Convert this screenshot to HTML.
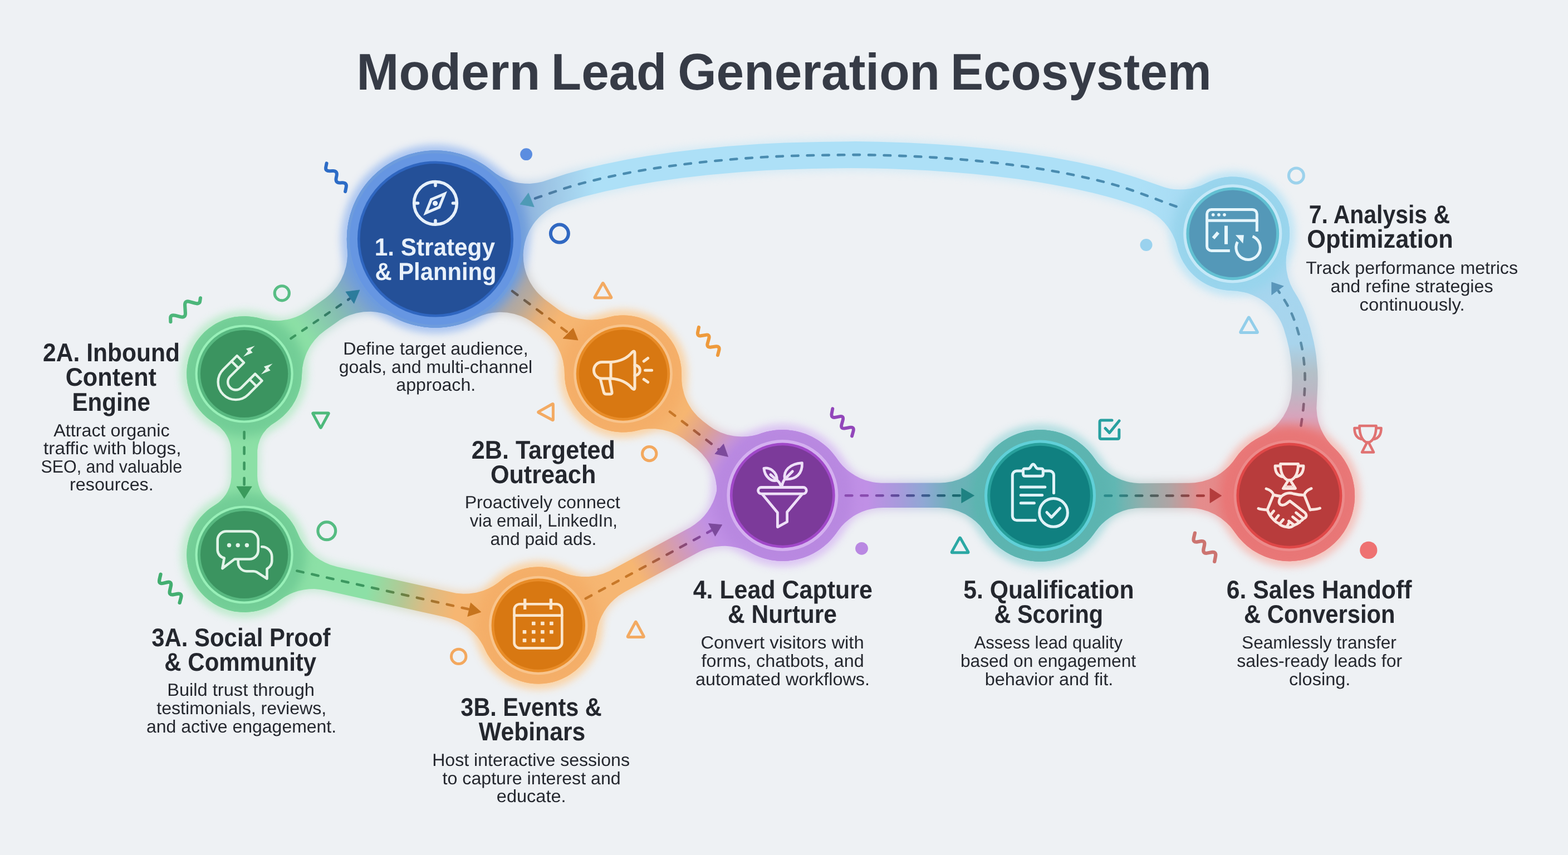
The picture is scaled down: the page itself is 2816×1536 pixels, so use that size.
<!DOCTYPE html>
<html lang="en"><head><meta charset="utf-8"><title>Modern Lead Generation Ecosystem</title>
<style>
html,body{margin:0;padding:0;background:#eef1f4;}
body{width:2816px;height:1536px;overflow:hidden;}
svg{display:block;}
text{font-family:"Liberation Sans",Arial,sans-serif;white-space:pre;}
</style></head><body>
<svg xmlns="http://www.w3.org/2000/svg" width="2816" height="1536" viewBox="0 0 2816 1536">
<defs>
<linearGradient id="g_c2A1" gradientUnits="userSpaceOnUse" x1="439" y1="666.8" x2="782" y2="425.1"><stop offset="0" stop-color="#8ce0a6"/><stop offset="0.3" stop-color="#8ce0a6"/><stop offset="0.47" stop-color="#86beb2"/><stop offset="0.58" stop-color="#7ea6cc"/><stop offset="0.7" stop-color="#6b9ae3"/><stop offset="1" stop-color="#6b9ae3"/></linearGradient>
<linearGradient id="g_c2A1d" gradientUnits="userSpaceOnUse" x1="439" y1="666.8" x2="782" y2="425.1"><stop offset="0" stop-color="#3c9860"/><stop offset="0.3" stop-color="#3c9860"/><stop offset="0.47" stop-color="#337567"/><stop offset="0.58" stop-color="#2a5986"/><stop offset="0.7" stop-color="#3f6fb2"/><stop offset="1" stop-color="#3f6fb2"/></linearGradient>
<linearGradient id="g_c12B" gradientUnits="userSpaceOnUse" x1="782" y1="420.1" x2="1119" y2="671.4"><stop offset="0" stop-color="#6b9ae3"/><stop offset="0.24" stop-color="#6b9ae3"/><stop offset="0.31" stop-color="#8a9cc4"/><stop offset="0.4" stop-color="#a4a6ae"/><stop offset="0.48" stop-color="#b8aa9c"/><stop offset="0.56" stop-color="#e4b07c"/><stop offset="0.64" stop-color="#f6b672"/><stop offset="1" stop-color="#f6b672"/></linearGradient>
<linearGradient id="g_c12Bd" gradientUnits="userSpaceOnUse" x1="782" y1="420.1" x2="1119" y2="671.4"><stop offset="0" stop-color="#3f6fb2"/><stop offset="0.24" stop-color="#3f6fb2"/><stop offset="0.31" stop-color="#384d7c"/><stop offset="0.4" stop-color="#565962"/><stop offset="0.48" stop-color="#6e5e4d"/><stop offset="0.56" stop-color="#a26527"/><stop offset="0.64" stop-color="#c87828"/><stop offset="1" stop-color="#c87828"/></linearGradient>
<linearGradient id="g_c2B4" gradientUnits="userSpaceOnUse" x1="1119" y1="674.8" x2="1405" y2="895.7"><stop offset="0" stop-color="#f6b672"/><stop offset="0.36" stop-color="#f6b672"/><stop offset="0.5" stop-color="#dca094"/><stop offset="0.62" stop-color="#c896d4"/><stop offset="0.7" stop-color="#c090e6"/><stop offset="1" stop-color="#c090e6"/></linearGradient>
<linearGradient id="g_c2B4d" gradientUnits="userSpaceOnUse" x1="1119" y1="674.8" x2="1405" y2="895.7"><stop offset="0" stop-color="#c87828"/><stop offset="0.36" stop-color="#c87828"/><stop offset="0.5" stop-color="#995244"/><stop offset="0.62" stop-color="#81468f"/><stop offset="0.7" stop-color="#8a4cb0"/><stop offset="1" stop-color="#8a4cb0"/></linearGradient>
<linearGradient id="g_c2A3A" gradientUnits="userSpaceOnUse" x1="438.6" y1="671.5" x2="438.6" y2="996.5"><stop offset="0" stop-color="#8ce0a6"/><stop offset="1" stop-color="#8ce0a6"/></linearGradient>
<linearGradient id="g_c2A3Ad" gradientUnits="userSpaceOnUse" x1="438.6" y1="671.5" x2="438.6" y2="996.5"><stop offset="0" stop-color="#3c9860"/><stop offset="1" stop-color="#3c9860"/></linearGradient>
<linearGradient id="g_c3A3B" gradientUnits="userSpaceOnUse" x1="438.6" y1="1004.5" x2="966.8" y2="1122.4"><stop offset="0" stop-color="#8ce0a6"/><stop offset="0.42" stop-color="#8ce0a6"/><stop offset="0.54" stop-color="#b4c894"/><stop offset="0.62" stop-color="#dcbc84"/><stop offset="0.72" stop-color="#f6b672"/><stop offset="1" stop-color="#f6b672"/></linearGradient>
<linearGradient id="g_c3A3Bd" gradientUnits="userSpaceOnUse" x1="438.6" y1="1004.5" x2="966.8" y2="1122.4"><stop offset="0" stop-color="#3c9860"/><stop offset="0.42" stop-color="#3c9860"/><stop offset="0.54" stop-color="#698144"/><stop offset="0.62" stop-color="#997331"/><stop offset="0.72" stop-color="#c87828"/><stop offset="1" stop-color="#c87828"/></linearGradient>
<linearGradient id="g_c3B4" gradientUnits="userSpaceOnUse" x1="966.8" y1="1121.2" x2="1405.3" y2="884.1"><stop offset="0" stop-color="#f6b672"/><stop offset="0.4" stop-color="#f6b672"/><stop offset="0.52" stop-color="#dca09c"/><stop offset="0.64" stop-color="#c896d4"/><stop offset="0.72" stop-color="#c090e6"/><stop offset="1" stop-color="#c090e6"/></linearGradient>
<linearGradient id="g_c3B4d" gradientUnits="userSpaceOnUse" x1="966.8" y1="1121.2" x2="1405.3" y2="884.1"><stop offset="0" stop-color="#c87828"/><stop offset="0.4" stop-color="#c87828"/><stop offset="0.52" stop-color="#99524d"/><stop offset="0.64" stop-color="#81468f"/><stop offset="0.72" stop-color="#8a4cb0"/><stop offset="1" stop-color="#8a4cb0"/></linearGradient>
<linearGradient id="g_c45" gradientUnits="userSpaceOnUse" x1="1405.3" y1="890" x2="1868" y2="890"><stop offset="0" stop-color="#c090e6"/><stop offset="0.33" stop-color="#c090e6"/><stop offset="0.45" stop-color="#a89adc"/><stop offset="0.55" stop-color="#8fa8d4"/><stop offset="0.66" stop-color="#6cb2b8"/><stop offset="1" stop-color="#62b8b4"/></linearGradient>
<linearGradient id="g_c45d" gradientUnits="userSpaceOnUse" x1="1405.3" y1="890" x2="1868" y2="890"><stop offset="0" stop-color="#8a4cb0"/><stop offset="0.33" stop-color="#8a4cb0"/><stop offset="0.45" stop-color="#5b4b99"/><stop offset="0.55" stop-color="#3e5b8f"/><stop offset="0.66" stop-color="#1a676e"/><stop offset="1" stop-color="#2a8a8a"/></linearGradient>
<linearGradient id="g_c56" gradientUnits="userSpaceOnUse" x1="1868" y1="890.5" x2="2315.4" y2="890.5"><stop offset="0" stop-color="#62b8b4"/><stop offset="0.3" stop-color="#62b8b4"/><stop offset="0.42" stop-color="#94aeac"/><stop offset="0.52" stop-color="#b0a4a4"/><stop offset="0.64" stop-color="#e48c8c"/><stop offset="1" stop-color="#ec8484"/></linearGradient>
<linearGradient id="g_c56d" gradientUnits="userSpaceOnUse" x1="1868" y1="890.5" x2="2315.4" y2="890.5"><stop offset="0" stop-color="#2a8a8a"/><stop offset="0.3" stop-color="#2a8a8a"/><stop offset="0.42" stop-color="#446260"/><stop offset="0.52" stop-color="#655656"/><stop offset="0.64" stop-color="#a23a3a"/><stop offset="1" stop-color="#c04848"/></linearGradient>
<linearGradient id="g_c67" gradientUnits="userSpaceOnUse" x1="2330" y1="890" x2="2330" y2="420"><stop offset="0" stop-color="#ec8484"/><stop offset="0.2" stop-color="#ee8888"/><stop offset="0.3" stop-color="#d8a4bc"/><stop offset="0.4" stop-color="#bcb8c4"/><stop offset="0.47" stop-color="#b4c0c8"/><stop offset="0.58" stop-color="#a8d4ec"/><stop offset="1" stop-color="#a4d8f2"/></linearGradient>
<linearGradient id="g_c67d" gradientUnits="userSpaceOnUse" x1="2330" y1="890" x2="2330" y2="420"><stop offset="0" stop-color="#c04848"/><stop offset="0.2" stop-color="#c04848"/><stop offset="0.3" stop-color="#945673"/><stop offset="0.4" stop-color="#736e7c"/><stop offset="0.47" stop-color="#697781"/><stop offset="0.58" stop-color="#5b8fab"/><stop offset="1" stop-color="#4a8cb0"/></linearGradient>
<linearGradient id="g_c71" gradientUnits="userSpaceOnUse" x1="2213.8" y1="350" x2="782" y2="350"><stop offset="0" stop-color="#a4d8f2"/><stop offset="0.06" stop-color="#a8dcf4"/><stop offset="0.12" stop-color="#ade0f7"/><stop offset="0.8" stop-color="#ade0f7"/><stop offset="0.86" stop-color="#9cc4e4"/><stop offset="0.9" stop-color="#88acdc"/><stop offset="0.93" stop-color="#6b9ae3"/><stop offset="1" stop-color="#6b9ae3"/></linearGradient>
<linearGradient id="g_c71d" gradientUnits="userSpaceOnUse" x1="2213.8" y1="350" x2="782" y2="350"><stop offset="0" stop-color="#4a8cb0"/><stop offset="0.06" stop-color="#4a8cb0"/><stop offset="0.12" stop-color="#4a8cb0"/><stop offset="0.8" stop-color="#4a8cb0"/><stop offset="0.86" stop-color="#4d7ca2"/><stop offset="0.9" stop-color="#356099"/><stop offset="0.93" stop-color="#3f6fb2"/><stop offset="1" stop-color="#3f6fb2"/></linearGradient>
<filter id="glow" x="0" y="0" width="2816" height="1536" filterUnits="userSpaceOnUse" color-interpolation-filters="sRGB"><feGaussianBlur stdDeviation="8"/></filter>
<filter id="soft" x="0" y="0" width="2816" height="1536" filterUnits="userSpaceOnUse" color-interpolation-filters="sRGB"><feGaussianBlur stdDeviation="0.9"/></filter>
<filter id="halo" x="0" y="0" width="2816" height="1536" filterUnits="userSpaceOnUse" color-interpolation-filters="sRGB"><feGaussianBlur stdDeviation="9"/></filter>
</defs>
<rect width="2816" height="1536" fill="#eef1f4"/>
<!-- glow -->
<g filter="url(#glow)" opacity="0.42">
<path d="M545.5,682.2 546.9,661.2 549.5,649.1 554.8,634.6 562.5,621.0 568.1,613.6 576.6,604.5 586.4,596.6 612.6,578.2 629.2,570.0 641.1,566.4 653.3,564.3 674.9,564.5 693.0,568.6 723.2,581.7 746.1,588.7 773.8,592.5 797.8,591.9 813.6,589.6 825.7,586.7 851.9,576.9 876.1,562.8 897.5,544.8 908.3,532.9 917.8,520.0 926.0,506.3 932.8,491.8 938.2,476.7 942.1,461.1 944.4,445.3 945.2,429.3 944.4,413.3 942.0,397.5 938.1,381.9 932.7,366.9 925.8,352.4 917.6,338.7 908.0,325.8 897.3,314.0 875.8,296.0 852.5,282.3 829.2,273.3 801.8,267.5 774.2,266.5 746.4,270.2 719.7,278.7 694.8,291.5 675.5,305.8 658.5,322.8 644.2,342.1 632.7,363.5 624.7,386.1 620.0,409.4 618.8,429.4 620.1,459.0 617.6,477.7 613.9,489.8 608.7,501.3 602.0,512.0 594.0,521.8 582.3,532.3 548.6,556.2 535.1,563.7 520.5,568.9 505.4,571.7 490.0,572.1 477.7,570.6 451.9,564.9 430.9,564.4 420.0,565.7 407.2,568.8 396.7,572.6 385.9,577.9 368.3,590.3 354.1,605.2 349.2,611.9 339.5,630.2 335.2,642.6 331.5,663.5 331.7,682.2 335.9,702.9 344.0,722.3 355.7,739.8 370.6,754.6 388.1,766.3 407.6,774.3 428.3,778.4 449.3,778.4 470.0,774.2 489.4,766.1 506.9,754.4 521.5,739.8 533.2,722.3 541.3,702.9Z" fill="url(#g_c2A1)"/>
<path d="M945.1,425.0 943.9,409.3 941.2,393.6 936.9,378.1 931.1,363.2 923.9,348.9 915.3,335.4 905.4,322.8 894.4,311.2 882.2,300.7 869.1,291.5 855.2,283.6 840.6,277.2 825.3,272.2 809.7,268.7 793.8,266.7 777.8,266.4 761.8,267.6 746.1,270.3 730.6,274.6 715.7,280.4 701.4,287.6 687.9,296.2 675.3,306.1 663.7,317.1 653.2,329.3 644.0,342.4 636.1,356.3 629.7,370.9 624.7,386.2 621.2,401.8 619.2,417.7 618.9,433.6 620.6,453.6 624.9,473.8 632.7,495.5 642.1,513.5 653.3,529.8 667.1,545.4 684.7,560.5 701.4,571.4 719.7,580.3 741.6,587.6 761.9,591.5 781.9,592.7 801.8,591.5 821.8,587.8 840.6,581.8 867.3,570.2 885.5,565.7 898.0,564.8 910.5,565.5 922.8,567.8 934.7,571.7 951.2,580.2 973.9,596.9 985.4,607.8 994.9,620.3 1002.3,634.3 1007.3,649.2 1009.4,661.6 1011.6,689.9 1014.6,702.9 1018.4,713.3 1025.1,726.9 1032.9,738.4 1041.8,748.4 1052.1,757.5 1066.0,766.7 1082.4,774.2 1097.9,778.4 1116.5,780.5 1134.8,779.3 1150.8,775.8 1167.3,769.2 1181.6,760.7 1198.1,746.5 1211.2,729.6 1220.8,710.5 1226.4,689.9 1228.0,668.6 1225.3,647.4 1218.6,627.2 1208.0,608.6 1196.0,594.3 1181.6,582.3 1165.5,572.9 1147.9,566.4 1129.9,563.0 1113.8,562.6 1100.1,564.2 1072.4,570.2 1053.5,570.5 1040.9,568.7 1028.8,565.2 1017.2,560.2 1006.3,553.6 979.7,533.8 970.4,525.3 960.6,513.3 952.8,499.8 947.3,485.2 944.2,470.0 943.6,457.5Z" fill="url(#g_c12B)"/>
<path d="M1137.4,778.9 1164.1,774.2 1176.7,774.2 1189.1,775.9 1198.2,778.2 1215.5,785.4 1226.1,792.0 1248.4,809.1 1257.5,817.7 1265.4,827.3 1270.5,835.1 1276.1,846.3 1279.2,855.0 1283.0,873.3 1283.7,898.7 1285.8,913.9 1290.5,930.9 1297.7,947.3 1309.3,965.1 1323.3,980.2 1340.0,992.9 1356.1,1001.5 1378.8,1009.0 1402.5,1011.9 1426.3,1010.1 1449.4,1003.7 1470.7,992.9 1489.5,978.1 1505.1,960.0 1516.8,939.3 1523.2,920.8 1526.6,901.8 1527.0,883.9 1524.2,863.1 1518.2,844.1 1509.9,827.5 1498.5,811.4 1485.0,797.8 1472.4,788.2 1457.3,779.7 1440.5,773.3 1423.3,769.4 1408.1,768.1 1390.5,769.0 1375.9,771.7 1350.2,778.9 1331.7,780.5 1319.3,779.6 1307.2,777.0 1295.5,773.0 1284.4,767.4 1265.3,753.7 1255.9,745.4 1245.9,733.6 1237.9,720.3 1232.2,706.0 1229.3,693.8 1227.2,658.4 1222.6,637.5 1217.6,625.1 1212.6,615.6 1205.1,604.6 1198.1,596.5 1187.4,586.6 1175.2,578.1 1162.3,571.5 1148.3,566.5 1126.9,562.8 1103.2,563.7 1090.2,566.4 1080.0,569.7 1060.9,579.3 1044.0,592.4 1030.0,608.6 1019.4,627.2 1012.7,647.4 1010.0,668.6 1011.6,689.9 1017.2,710.5 1026.8,729.6 1039.9,746.5 1056.1,760.5 1074.7,771.1 1094.9,777.8 1116.1,780.5Z" fill="url(#g_c2B4)"/>
<path d="M368.3,752.7 392.4,770.3 399.9,778.5 405.7,788.0 409.6,798.5 411.5,813.4 411.5,856.5 410.3,866.2 405.3,880.7 397.9,892.0 389.7,900.0 374.5,910.3 362.6,920.7 352.0,933.0 342.7,948.1 335.9,965.2 332.0,983.2 331.3,1001.9 333.9,1020.2 340.5,1040.2 350.9,1058.5 364.7,1074.4 381.3,1087.3 400.1,1096.8 420.4,1102.3 441.4,1103.9 462.3,1101.2 479.5,1095.8 493.9,1088.5 508.6,1077.9 520.3,1066.2 530.6,1051.8 538.7,1035.3 543.5,1019.5 545.9,1001.9 545.7,988.1 543.4,972.8 538.7,957.7 532.0,943.4 523.4,930.5 514.4,920.4 504.5,911.7 486.5,899.0 478.5,890.7 470.7,877.4 466.6,862.6 466.2,809.3 467.6,799.9 470.6,790.7 475.9,780.8 481.9,773.3 489.0,766.9 510.6,751.2 518.6,743.1 526.5,733.1 533.4,722.0 539.5,708.2 543.3,695.3 545.5,681.9 545.9,666.4 544.0,650.7 539.8,635.5 533.4,621.0 525.0,607.6 516.0,597.1 504.6,586.7 491.7,578.1 472.5,569.6 451.9,564.9 430.9,564.4 410.1,567.9 390.5,575.5 372.7,586.7 357.4,601.2 345.3,618.4 336.7,637.6 332.0,658.2 331.5,679.2 335.0,700.0 342.6,719.6 353.8,737.4Z" fill="url(#g_c2A3A)"/>
<path d="M542.6,965.7 533.2,945.7 521.5,928.2 506.6,913.4 489.1,901.7 470.0,893.8 449.3,889.6 428.3,889.6 407.6,893.7 388.1,901.7 370.6,913.4 355.7,928.2 344.0,945.7 335.9,965.1 331.7,985.8 331.7,1006.8 335.8,1027.5 339.5,1037.8 345.3,1049.6 352.5,1060.7 366.6,1076.2 383.2,1088.5 394.9,1094.6 407.2,1099.2 420.0,1102.3 433.1,1103.8 443.7,1103.8 455.2,1102.6 467.5,1099.9 478.9,1096.0 489.0,1091.3 514.3,1074.9 528.2,1068.3 546.1,1063.4 564.6,1062.1 583.1,1064.4 809.2,1115.4 828.9,1124.3 839.1,1131.4 848.2,1139.7 859.8,1154.1 871.9,1177.0 879.1,1188.2 887.7,1198.5 897.5,1207.6 908.3,1215.5 920.3,1222.1 934.4,1227.6 948.3,1230.9 967.0,1232.5 985.6,1230.9 1003.7,1226.1 1020.7,1218.3 1036.1,1207.7 1049.5,1194.5 1060.4,1179.4 1068.6,1162.5 1074.2,1141.9 1075.8,1120.6 1073.1,1099.4 1066.4,1079.2 1055.8,1060.6 1041.8,1044.4 1024.9,1031.3 1005.9,1021.8 990.8,1017.2 975.0,1014.8 958.9,1014.8 943.1,1017.1 928.3,1021.5 915.6,1027.3 904.2,1034.2 883.5,1049.4 866.5,1057.4 854.3,1060.8 841.8,1062.6 832.4,1062.8 819.8,1061.7 606.5,1014.3 594.1,1010.7 577.0,1002.4 569.2,997.0 559.5,988.6 547.5,973.9Z" fill="url(#g_c3A3B)"/>
<path d="M1093.2,1022.1 1081.6,1027.0 1069.5,1030.3 1057.1,1032.0 1044.6,1032.1 1026.1,1029.2 1001.2,1020.1 988.3,1016.6 974.7,1014.8 958.6,1014.8 942.8,1017.2 927.4,1021.9 912.9,1028.7 899.6,1037.7 884.1,1052.5 871.9,1069.9 863.2,1089.5 858.6,1110.4 858.1,1131.7 861.8,1152.8 869.5,1172.7 881.0,1190.7 891.7,1202.5 904.7,1213.1 920.1,1222.0 935.0,1227.8 951.0,1231.3 967.6,1232.5 985.3,1230.9 1000.9,1227.0 1018.0,1219.7 1031.6,1211.1 1044.0,1200.4 1055.8,1186.4 1063.8,1173.2 1069.3,1160.5 1073.2,1147.2 1077.2,1126.1 1083.9,1108.7 1093.7,1092.8 1106.4,1079.2 1113.7,1073.4 1124.4,1066.7 1257.2,994.9 1271.5,989.2 1283.5,986.3 1295.9,984.9 1311.2,985.5 1332.3,990.4 1356.1,1001.5 1370.1,1006.7 1387.3,1010.6 1402.6,1011.9 1417.5,1011.3 1432.3,1008.9 1447.2,1004.5 1462.9,997.4 1482.5,984.4 1497.7,969.5 1511.3,950.3 1520.8,929.0 1525.9,907.7 1527.1,884.2 1524.0,862.1 1516.8,840.8 1505.1,820.0 1489.5,801.9 1470.7,787.1 1449.4,776.3 1426.3,769.9 1402.5,768.1 1378.8,771.0 1356.1,778.5 1340.2,786.9 1326.3,797.2 1314.9,808.2 1304.0,822.2 1296.3,835.4 1290.5,849.2 1286.3,863.5 1282.0,886.1 1276.7,900.7 1267.4,916.9 1255.2,930.9 1245.5,938.9 1237.7,944.0Z" fill="url(#g_c3B4)"/>
<path d="M1501.3,965.1 1513.7,948.7 1527.4,935.8 1540.6,927.4 1549.1,923.3 1567.1,917.8 1585.9,916.0 1686.4,916.0 1699.1,916.8 1708.3,918.5 1720.3,922.2 1731.8,927.3 1742.5,934.0 1756.6,946.4 1773.2,968.0 1783.7,979.2 1797.6,990.7 1813.1,999.9 1831.7,1007.4 1850.2,1011.6 1870.2,1012.9 1889.1,1011.1 1912.2,1004.6 1933.6,993.8 1952.5,979.0 1968.2,960.8 1980.0,939.9 1987.5,917.1 1990.4,893.3 1988.6,869.4 1983.3,849.5 1975.6,832.1 1964.4,815.1 1950.3,799.9 1933.6,787.2 1916.0,777.9 1897.5,771.7 1877.2,768.4 1859.1,768.4 1841.3,771.0 1826.0,775.5 1810.4,782.5 1796.9,790.9 1783.7,801.8 1773.5,812.7 1756.9,833.9 1742.9,846.0 1732.3,852.4 1721.0,857.5 1709.2,861.1 1697.0,863.1 1582.9,863.8 1567.5,862.1 1555.4,858.9 1538.4,851.3 1523.1,840.6 1512.2,829.6 1493.4,805.8 1483.3,796.4 1472.8,788.5 1459.9,781.0 1446.1,775.2 1431.8,771.0 1417.5,768.7 1408.1,768.1 1390.5,769.0 1381.4,770.5 1364.6,775.1 1350.4,781.2 1335.7,789.9 1323.3,799.8 1311.2,812.6 1302.4,824.6 1296.5,835.0 1287.9,857.3 1283.7,880.8 1284.3,904.7 1289.5,928.0 1299.1,949.9 1312.9,969.5 1330.2,986.0 1350.3,998.8 1372.6,1007.4 1396.1,1011.6 1420.0,1011.0 1443.3,1005.8 1465.2,996.2 1484.8,982.4Z" fill="url(#g_c45)"/>
<path d="M1956.5,975.0 1981.2,944.6 1995.8,932.7 2009.5,925.1 2027.3,919.0 2039.8,917.0 2049.2,916.5 2135.0,916.5 2147.5,917.3 2168.5,922.5 2179.8,927.6 2190.4,934.0 2200.1,941.8 2206.6,948.5 2221.2,967.5 2231.6,978.7 2245.4,990.1 2260.9,999.3 2279.9,1006.9 2297.7,1010.9 2317.6,1012.2 2336.4,1010.4 2359.4,1004.0 2380.7,993.2 2399.5,978.5 2415.0,960.4 2426.7,939.6 2434.2,917.0 2437.1,893.3 2435.3,869.5 2430.0,849.6 2422.3,832.4 2411.2,815.5 2397.0,800.2 2381.2,788.1 2364.6,779.2 2344.8,772.4 2324.2,769.1 2306.6,769.1 2288.9,771.7 2274.3,776.0 2258.2,783.1 2244.7,791.5 2231.6,802.3 2221.5,813.1 2204.6,834.5 2190.0,846.9 2181.9,851.9 2170.3,857.3 2158.1,861.1 2145.5,863.3 2046.3,864.2 2030.6,862.4 2015.4,858.1 1998.4,849.8 1985.7,840.5 1974.8,829.2 1956.5,805.9 1947.0,797.0 1935.8,788.6 1922.8,781.1 1909.0,775.2 1894.6,771.0 1879.9,768.7 1862.8,768.2 1846.9,769.9 1829.7,774.2 1815.0,780.2 1799.9,788.8 1785.9,799.7 1775.2,810.7 1764.7,824.9 1753.9,846.3 1747.4,869.4 1745.6,893.3 1748.5,917.1 1756.0,939.9 1767.8,960.8 1783.5,979.0 1802.4,993.8 1823.8,1004.6 1846.9,1011.1 1870.8,1012.9 1894.6,1010.0 1917.4,1002.5 1938.3,990.7Z" fill="url(#g_c56)"/>
<path d="M2320.0,416.7 2317.5,396.3 2310.9,376.5 2300.6,358.4 2287.0,342.7 2270.8,330.1 2252.2,320.7 2232.2,315.1 2211.4,313.5 2190.7,316.0 2172.4,321.9 2154.6,331.5 2138.5,344.8 2125.3,360.9 2115.5,379.3 2109.6,398.9 2107.5,419.6 2108.0,430.5 2110.1,443.3 2117.3,464.5 2128.5,483.3 2135.6,491.8 2144.2,500.1 2161.2,512.2 2180.3,520.7 2198.3,525.0 2221.0,526.6 2233.3,528.8 2248.0,533.6 2259.1,539.2 2274.1,550.1 2284.9,561.3 2295.2,576.7 2301.4,590.9 2311.1,627.1 2316.0,663.8 2316.6,682.4 2315.9,702.3 2314.1,714.6 2310.7,726.6 2307.2,735.2 2301.2,746.2 2293.9,756.2 2287.6,763.1 2273.1,774.9 2253.0,786.0 2240.4,794.7 2227.2,806.7 2215.8,820.5 2206.3,836.5 2198.9,855.3 2195.0,872.8 2193.7,893.7 2196.6,917.0 2203.3,937.8 2214.3,958.3 2229.5,976.7 2248.0,991.8 2268.6,1002.9 2291.5,1009.8 2315.2,1012.2 2338.9,1009.9 2361.8,1003.0 2382.8,991.8 2401.3,976.7 2416.5,958.3 2427.8,937.3 2434.7,914.4 2437.1,890.7 2436.2,875.8 2433.9,863.0 2429.9,849.3 2424.2,836.0 2411.5,815.8 2392.5,795.4 2383.2,783.1 2376.0,769.4 2371.1,754.8 2368.3,733.4 2370.4,692.9 2370.2,665.7 2367.8,639.0 2363.5,613.6 2357.1,588.1 2349.2,564.4 2339.0,541.1 2321.2,509.2 2317.0,497.2 2314.4,484.7 2313.4,472.0 2313.8,462.5 2319.0,435.2Z" fill="url(#g_c67)"/>
<path d="M893.0,309.0 872.5,293.7 858.8,285.5 844.3,278.7 829.2,273.3 813.6,269.4 797.8,267.1 781.8,266.3 765.8,267.1 750.0,269.5 734.4,273.4 719.4,278.8 704.9,285.7 691.2,293.9 678.3,303.5 666.5,314.2 655.7,326.1 646.2,339.0 638.0,352.7 631.2,367.2 625.8,382.3 621.9,397.9 619.6,413.7 618.8,429.7 619.6,445.7 622.0,461.5 625.9,477.1 631.3,492.1 638.2,506.6 646.4,520.3 656.0,533.2 666.7,545.0 687.9,562.8 704.9,573.4 726.9,583.1 746.1,588.7 766.8,592.0 790.1,592.5 810.0,590.3 833.3,584.4 851.9,577.0 872.8,565.1 891.7,550.3 905.5,536.2 913.0,526.8 925.9,506.6 935.6,484.6 941.2,465.4 946.4,436.5 949.2,427.5 954.4,415.9 961.0,405.1 971.1,393.0 983.1,382.8 993.8,376.1 1010.0,369.2 1050.1,356.9 1088.7,347.4 1136.5,337.5 1179.1,330.2 1224.5,323.8 1275.6,318.0 1332.0,313.0 1412.1,308.4 1527.1,306.1 1592.8,307.1 1667.2,310.3 1747.8,316.5 1828.2,325.8 1890.3,335.6 1961.6,350.4 2004.4,362.0 2048.7,376.4 2063.2,382.9 2074.0,389.8 2088.1,402.5 2099.4,417.7 2106.5,432.0 2112.8,453.0 2117.8,465.4 2125.5,479.0 2135.1,491.3 2148.6,503.7 2165.3,514.4 2182.8,521.5 2201.0,525.3 2222.5,525.7 2244.5,521.6 2263.7,513.6 2281.1,502.1 2296.1,487.1 2307.9,469.1 2316.2,448.3 2319.8,427.8 2319.6,409.6 2316.3,391.6 2310.0,374.5 2300.8,358.7 2289.1,344.7 2275.2,333.0 2259.4,323.8 2242.3,317.4 2231.7,315.0 2219.9,313.7 2198.4,314.6 2178.2,319.7 2155.4,329.8 2143.2,333.8 2127.5,336.3 2108.3,335.9 2092.7,332.7 2040.0,314.4 2002.5,303.1 1936.9,287.6 1890.8,278.8 1844.5,271.5 1780.5,263.6 1725.3,258.3 1631.9,252.5 1536.2,250.1 1409.8,252.4 1362.4,254.7 1258.3,263.5 1207.8,269.5 1125.8,282.5 1051.7,298.7 1015.5,308.6 972.9,322.5 963.9,324.5 942.3,325.8 923.9,323.0 909.3,318.0Z" fill="url(#g_c71)"/>
</g>
<g filter="url(#glow)" opacity="0.9">
<circle cx="782.0" cy="429.5" r="168.2" fill="#a8c4f2"/>
<circle cx="438.6" cy="671.5" r="112.4" fill="#bfecce"/>
<circle cx="438.6" cy="996.5" r="112.4" fill="#bfecce"/>
<circle cx="1119.0" cy="671.5" r="114.0" fill="#fcd4a4"/>
<circle cx="966.8" cy="1123.5" r="114.0" fill="#fcd4a4"/>
<circle cx="1405.3" cy="890.0" r="126.9" fill="#dcc4f4"/>
<circle cx="1868.0" cy="890.5" r="127.4" fill="#b4e0e4"/>
<circle cx="2315.4" cy="890.5" r="126.7" fill="#f6c4bc"/>
<circle cx="2213.8" cy="419.8" r="111.3" fill="#c0e6f6"/>
</g>
<!-- body -->
<g>
<path d="M541.5,681.6 543.0,660.7 544.1,654.3 545.6,648.0 548.7,638.8 551.2,632.8 555.7,624.2 559.2,618.8 565.0,611.0 573.9,601.6 584.0,593.4 610.5,574.8 618.9,570.1 627.8,566.2 640.1,562.5 652.9,560.3 665.8,559.8 675.4,560.6 685.0,562.2 694.3,564.8 703.3,568.3 717.5,575.0 724.7,578.0 735.8,581.8 747.1,584.8 760.7,587.3 774.2,588.5 785.9,588.7 797.6,587.9 813.1,585.6 824.5,582.9 835.6,579.4 850.1,573.4 863.3,566.4 873.7,559.7 883.0,552.6 894.6,542.1 905.1,530.5 914.4,517.9 922.4,504.5 929.1,490.4 934.3,475.7 938.1,460.6 940.4,445.1 941.2,429.5 940.4,413.9 938.1,398.4 934.3,383.3 929.1,368.6 922.4,354.5 914.4,341.1 905.1,328.5 894.6,316.9 885.5,308.6 873.7,299.3 863.8,292.9 850.6,285.9 839.3,281.0 828.2,277.2 816.9,274.2 801.5,271.5 789.8,270.5 774.2,270.5 758.6,272.0 747.1,274.2 732.6,278.1 721.1,282.4 707.5,288.8 696.8,295.0 687.2,301.6 678.0,309.0 669.4,316.9 661.5,325.5 654.1,334.7 647.5,344.3 641.6,354.5 636.5,365.0 632.1,375.9 628.6,387.0 625.9,398.4 624.0,410.0 623.2,418.5 622.8,429.5 624.1,452.6 624.1,459.2 623.3,469.0 621.5,478.7 617.7,491.2 612.2,503.2 605.3,514.3 596.9,524.4 592.3,529.1 584.7,535.4 550.8,559.6 542.5,564.5 536.7,567.3 530.8,569.8 521.6,572.8 515.4,574.2 505.8,575.7 499.4,576.2 489.8,576.1 477.0,574.5 461.3,570.6 451.3,568.9 441.1,568.1 431.0,568.4 420.9,569.6 408.6,572.6 398.5,576.2 387.6,581.5 377.0,588.4 371.1,593.2 365.5,598.4 357.1,607.9 352.6,614.1 348.9,620.0 343.1,631.9 338.9,643.9 336.2,656.9 335.5,663.9 335.2,671.5 335.7,681.6 337.2,691.7 339.7,701.5 343.1,711.1 347.4,720.2 352.6,728.9 358.7,737.1 365.5,744.6 373.0,751.4 381.2,757.5 389.9,762.7 399.0,767.0 408.6,770.4 418.4,772.9 428.5,774.4 438.6,774.9 448.7,774.4 458.8,772.9 468.6,770.4 478.2,767.0 487.3,762.7 496.0,757.5 504.2,751.4 511.7,744.6 518.5,737.1 524.6,728.9 529.8,720.2 534.1,711.1 537.5,701.5 540.0,691.7Z" fill="url(#g_c2A1)"/>
<path d="M941.1,425.0 940.0,410.0 937.3,394.6 933.2,379.6 927.5,365.0 920.5,351.0 912.2,337.8 902.5,325.5 891.8,314.2 879.9,304.0 867.2,295.0 853.6,287.3 839.3,281.0 824.5,276.1 809.2,272.6 793.7,270.7 778.1,270.3 762.5,271.5 747.1,274.2 732.1,278.3 717.5,284.0 703.5,291.0 690.3,299.3 678.0,309.0 666.7,319.7 656.5,331.6 647.5,344.3 639.8,357.9 633.5,372.2 628.6,387.0 625.1,402.3 623.2,417.8 622.8,433.4 623.3,441.8 624.5,452.9 626.7,464.4 628.7,472.5 632.1,483.1 636.5,494.0 639.8,501.1 645.4,511.3 651.5,520.7 656.5,527.4 664.0,536.4 669.9,542.5 678.0,550.0 687.2,557.4 694.1,562.2 703.5,568.0 711.0,572.0 721.1,576.6 732.1,580.7 742.7,583.8 750.9,585.6 762.5,587.5 774.2,588.5 782.0,588.7 790.4,588.5 801.5,587.5 813.1,585.6 820.7,583.9 831.9,580.7 839.3,578.0 859.9,568.7 866.0,566.4 875.4,563.6 885.0,561.8 898.0,560.8 911.0,561.5 923.7,563.9 936.1,567.9 945.0,572.0 953.4,576.9 976.4,593.8 981.4,598.1 988.3,605.1 994.6,612.7 998.3,618.1 1001.6,623.8 1006.0,632.7 1008.3,638.8 1011.2,648.2 1013.4,661.2 1014.3,679.2 1015.5,689.5 1018.5,702.0 1022.0,711.7 1025.2,718.7 1028.6,725.0 1036.2,736.1 1044.8,745.7 1054.4,754.3 1060.7,758.8 1067.8,763.2 1076.4,767.5 1083.6,770.4 1091.0,772.7 1098.5,774.5 1106.1,775.7 1116.4,776.5 1124.8,776.3 1134.4,775.4 1142.0,773.9 1149.5,772.0 1156.8,769.5 1165.7,765.6 1173.0,761.6 1179.5,757.3 1187.6,751.0 1195.0,743.9 1201.8,736.1 1207.7,727.7 1212.8,718.7 1217.0,709.3 1220.2,699.5 1222.5,689.5 1223.7,679.2 1224.0,668.9 1223.2,658.6 1221.4,648.5 1218.7,638.6 1215.0,628.9 1210.4,619.7 1204.8,611.0 1198.9,603.4 1193.2,597.3 1187.1,591.6 1179.5,585.7 1171.3,580.4 1163.9,576.6 1156.8,573.5 1147.0,570.3 1139.5,568.5 1129.3,567.0 1121.6,566.5 1113.8,566.6 1101.0,568.0 1082.6,572.5 1072.9,574.1 1063.0,574.8 1053.1,574.5 1040.1,572.6 1027.4,569.0 1015.3,563.7 1004.1,556.9 977.2,536.9 967.6,528.1 963.2,523.3 957.3,515.6 952.1,507.3 949.2,501.5 945.4,492.5 943.4,486.3 941.8,480.0 940.2,470.4 939.5,457.4 941.0,437.3Z" fill="url(#g_c12B)"/>
<path d="M1137.0,775.0 1154.2,771.3 1163.9,770.2 1176.9,770.2 1189.9,772.0 1199.3,774.4 1205.5,776.5 1217.4,781.9 1228.4,788.8 1250.9,806.1 1260.4,814.9 1268.7,824.9 1274.0,833.1 1279.7,844.7 1283.1,853.8 1285.5,863.3 1287.0,872.9 1287.4,879.4 1287.7,898.7 1289.7,913.0 1291.7,921.4 1294.3,929.7 1297.5,937.8 1301.3,945.6 1306.0,953.6 1312.4,962.5 1318.7,970.0 1326.1,977.4 1335.1,984.7 1342.2,989.6 1349.7,994.0 1357.5,997.8 1368.3,1001.9 1379.5,1005.0 1390.9,1007.0 1402.4,1007.9 1414.0,1007.6 1425.5,1006.2 1436.7,1003.6 1447.7,1000.0 1458.3,995.3 1468.4,989.6 1477.8,982.9 1486.6,975.4 1494.6,967.0 1501.7,957.9 1507.9,948.1 1513.1,937.8 1516.3,929.7 1519.4,919.6 1521.5,910.2 1522.6,901.6 1523.2,892.9 1523.1,884.2 1522.3,875.6 1520.3,864.2 1518.1,855.8 1514.5,845.5 1510.6,837.0 1506.4,829.4 1501.7,822.1 1495.3,813.9 1488.7,806.6 1482.3,800.7 1470.3,791.6 1463.4,787.4 1455.7,783.4 1447.7,780.0 1439.5,777.2 1431.1,775.0 1422.6,773.4 1408.2,772.1 1399.5,772.2 1390.9,773.0 1376.7,775.6 1360.3,780.7 1350.9,782.9 1341.3,784.2 1331.6,784.5 1318.8,783.5 1306.1,780.9 1293.9,776.7 1282.4,770.9 1274.3,765.6 1262.8,756.8 1253.1,748.2 1246.6,741.1 1242.6,735.9 1237.4,727.8 1234.3,722.1 1230.4,713.2 1228.3,707.1 1225.3,694.5 1224.2,684.9 1224.0,668.9 1223.2,658.6 1221.4,648.5 1218.7,638.6 1213.9,626.6 1209.1,617.5 1201.8,606.9 1195.0,599.1 1185.0,589.8 1179.5,585.7 1173.0,581.4 1160.5,575.1 1147.0,570.3 1134.4,567.6 1126.7,566.8 1119.0,566.5 1111.3,566.8 1103.6,567.6 1091.0,570.3 1081.2,573.5 1071.8,577.7 1062.8,582.8 1054.4,588.7 1046.6,595.5 1039.5,602.9 1033.2,611.0 1027.6,619.7 1023.0,628.9 1019.3,638.6 1016.6,648.5 1014.8,658.6 1014.0,668.9 1014.3,679.2 1015.5,689.5 1017.8,699.5 1021.0,709.3 1025.2,718.7 1030.3,727.7 1036.2,736.1 1043.0,743.9 1050.4,751.0 1058.5,757.3 1067.2,762.9 1076.4,767.5 1086.1,771.2 1096.0,773.9 1106.1,775.7 1116.4,776.5 1126.7,776.2Z" fill="url(#g_c2B4)"/>
<path d="M387.1,761.2 395.0,767.3 399.2,771.5 403.1,776.1 406.4,781.0 409.3,786.3 411.6,791.8 413.5,797.5 415.0,805.4 415.5,813.3 415.5,856.7 414.3,867.0 412.1,874.9 408.9,882.5 405.9,887.9 401.0,894.5 396.8,899.1 392.1,903.2 377.0,913.4 371.1,918.2 365.5,923.4 360.3,929.0 355.3,935.2 349.9,943.3 346.2,950.0 342.1,959.3 339.7,966.5 337.2,976.3 336.0,983.8 335.2,993.5 335.3,1001.6 336.0,1009.2 337.7,1019.2 340.4,1028.9 344.1,1038.4 348.6,1047.5 354.1,1056.0 360.3,1064.0 367.3,1071.4 375.0,1078.0 383.3,1083.9 392.1,1088.9 401.4,1093.0 411.0,1096.2 420.9,1098.4 431.0,1099.6 441.1,1099.9 451.3,1099.1 461.3,1097.4 469.9,1095.0 478.2,1092.0 485.1,1088.9 491.8,1085.2 498.4,1080.8 506.1,1074.8 511.7,1069.6 517.1,1063.7 523.1,1056.0 527.3,1049.7 531.8,1041.3 535.1,1033.7 537.5,1026.5 539.6,1018.8 541.2,1009.2 541.9,1001.6 541.7,988.5 540.9,981.3 539.5,973.8 537.5,966.5 535.1,959.3 532.1,952.3 528.6,945.5 524.6,939.1 520.1,932.9 511.7,923.4 502.2,915.0 488.8,905.9 483.9,902.1 479.4,897.8 475.3,893.2 470.7,886.4 467.0,879.0 464.3,871.2 462.6,863.1 462.1,854.9 462.2,809.0 463.7,798.9 466.9,789.2 469.5,783.7 472.6,778.5 479.0,770.5 486.6,763.7 500.2,754.6 508.0,748.1 515.5,740.7 523.1,731.0 529.8,720.2 533.1,713.4 535.8,706.7 539.5,694.2 541.5,681.6 542.0,674.0 541.9,666.4 541.2,658.8 540.0,651.3 538.3,643.9 536.0,636.7 533.1,629.6 529.8,622.8 526.0,616.2 521.7,609.9 513.2,599.9 508.0,594.9 502.2,590.0 496.0,585.5 489.6,581.5 480.5,577.0 471.0,573.3 461.3,570.6 451.3,568.9 441.1,568.1 431.0,568.4 420.9,569.6 411.0,571.8 401.4,575.0 392.1,579.1 383.3,584.1 375.0,590.0 367.3,596.6 360.3,604.0 354.1,612.0 348.6,620.5 344.1,629.6 340.4,639.1 337.7,648.8 336.0,658.8 335.2,669.0 335.5,679.1 336.7,689.2 338.9,699.1 342.1,708.7 346.2,718.0 351.2,726.8 357.1,735.1 363.7,742.8 371.1,749.8 379.1,756.0Z" fill="url(#g_c2A3A)"/>
<path d="M539.0,967.6 529.8,947.8 524.6,939.1 518.5,930.9 511.7,923.4 504.2,916.6 496.0,910.5 487.3,905.3 478.2,901.0 468.6,897.6 458.8,895.1 448.7,893.6 438.6,893.1 428.5,893.6 418.4,895.1 408.6,897.6 399.0,901.0 389.9,905.3 381.2,910.5 373.0,916.6 365.5,923.4 358.7,930.9 352.6,939.1 347.4,947.8 343.1,956.9 339.7,966.5 337.2,976.3 335.7,986.4 335.2,996.5 335.7,1006.6 337.2,1016.7 339.7,1026.5 343.1,1036.1 348.6,1047.5 355.5,1058.1 363.7,1067.8 369.2,1073.1 374.5,1077.6 385.4,1085.2 396.7,1091.0 408.6,1095.4 420.9,1098.4 433.5,1099.8 443.7,1099.8 454.4,1098.7 466.2,1096.2 477.6,1092.3 487.3,1087.7 496.0,1082.5 506.8,1074.8 512.3,1071.4 520.9,1067.0 526.8,1064.5 536.0,1061.6 545.5,1059.5 555.1,1058.3 564.7,1058.1 574.4,1058.9 583.9,1060.5 801.2,1109.0 810.5,1111.6 822.5,1116.3 831.0,1120.9 841.5,1128.2 851.1,1136.9 857.5,1144.1 863.1,1151.9 868.0,1160.3 875.4,1175.3 882.5,1186.0 890.8,1195.9 900.2,1204.7 910.6,1212.2 921.9,1218.4 929.0,1221.5 935.7,1223.8 948.8,1227.0 956.5,1228.0 966.8,1228.5 977.1,1228.0 984.8,1227.0 992.3,1225.4 1002.2,1222.4 1010.4,1219.0 1018.6,1214.9 1025.1,1210.8 1033.4,1204.7 1039.6,1199.1 1046.3,1192.1 1052.6,1184.0 1056.9,1177.5 1060.6,1170.7 1064.8,1161.3 1068.0,1151.5 1070.3,1141.5 1071.5,1131.2 1071.8,1120.9 1071.0,1110.6 1069.2,1100.5 1066.5,1090.6 1062.8,1080.9 1058.2,1071.7 1052.6,1063.0 1046.3,1054.9 1039.2,1047.5 1031.4,1040.7 1023.0,1034.8 1014.0,1029.7 1004.6,1025.5 997.3,1023.0 989.8,1021.1 982.2,1019.6 974.5,1018.8 966.8,1018.5 959.1,1018.8 951.4,1019.6 943.8,1021.1 936.3,1023.0 929.6,1025.3 917.3,1030.9 906.3,1037.7 893.8,1047.4 885.6,1052.9 876.9,1057.5 867.8,1061.2 855.1,1064.7 842.1,1066.6 832.3,1066.8 819.2,1065.7 605.5,1018.2 592.8,1014.5 583.6,1010.6 574.9,1005.8 566.7,1000.2 556.7,991.4 550.0,984.1 544.1,976.1Z" fill="url(#g_c3A3B)"/>
<path d="M1094.9,1025.7 1082.9,1030.8 1070.3,1034.2 1057.4,1036.0 1044.4,1036.1 1034.7,1035.0 1025.1,1033.0 1015.8,1030.1 999.7,1023.8 987.3,1020.5 974.5,1018.8 966.8,1018.5 959.1,1018.8 951.4,1019.6 943.8,1021.1 936.3,1023.0 929.0,1025.5 921.9,1028.6 915.0,1032.1 908.5,1036.2 902.2,1040.7 894.4,1047.5 887.3,1054.9 881.0,1063.0 875.4,1071.7 870.8,1080.9 867.1,1090.6 864.4,1100.5 862.6,1110.6 861.8,1120.9 862.1,1131.2 863.3,1141.5 865.6,1151.5 868.8,1161.3 873.0,1170.7 878.1,1179.7 884.0,1188.1 889.0,1194.0 894.4,1199.5 900.2,1204.7 906.8,1209.7 915.0,1214.9 921.9,1218.4 929.0,1221.5 936.3,1224.0 943.8,1225.9 951.4,1227.4 959.1,1228.2 967.4,1228.5 977.1,1228.0 984.8,1227.0 992.3,1225.4 999.7,1223.2 1007.5,1220.3 1016.3,1216.1 1023.0,1212.2 1029.3,1207.8 1035.4,1203.0 1041.0,1197.7 1048.0,1190.1 1052.6,1184.0 1056.9,1177.5 1060.3,1171.3 1065.7,1158.9 1069.2,1146.5 1071.9,1131.4 1073.4,1125.0 1076.4,1115.8 1080.3,1106.9 1085.0,1098.4 1090.5,1090.4 1096.8,1083.0 1103.8,1076.2 1111.4,1070.1 1122.3,1063.2 1255.4,991.4 1261.2,988.7 1270.3,985.3 1282.8,982.3 1295.6,980.9 1302.1,980.8 1311.7,981.5 1324.4,983.8 1333.6,986.6 1342.6,990.3 1357.5,997.8 1371.1,1002.8 1379.5,1005.0 1388.0,1006.6 1402.4,1007.9 1416.9,1007.3 1431.1,1005.0 1445.7,1000.8 1453.1,997.8 1460.9,994.0 1470.8,988.0 1480.1,981.1 1487.0,975.0 1494.6,967.0 1501.7,957.9 1507.9,948.1 1513.1,937.8 1517.0,927.6 1519.7,918.6 1521.9,907.3 1523.1,895.8 1523.1,884.2 1521.9,872.7 1520.0,862.9 1517.2,853.0 1513.1,842.2 1507.9,831.9 1501.7,822.1 1494.6,813.0 1486.6,804.6 1477.8,797.1 1468.4,790.4 1458.3,784.7 1447.7,780.0 1436.7,776.4 1425.5,773.8 1414.0,772.4 1402.4,772.1 1390.9,773.0 1379.5,775.0 1368.3,778.1 1357.5,782.2 1349.7,786.0 1342.2,790.4 1335.1,795.3 1328.8,800.3 1317.9,810.8 1312.4,817.5 1307.3,824.5 1300.0,837.0 1294.3,850.3 1290.3,864.2 1287.4,880.9 1285.9,887.2 1282.9,896.4 1280.4,902.4 1275.9,911.1 1270.7,919.2 1264.6,926.9 1257.9,933.9 1247.9,942.1 1239.7,947.4Z" fill="url(#g_c3B4)"/>
<path d="M1498.2,962.5 1510.7,946.1 1517.5,939.0 1525.0,932.7 1533.0,927.1 1538.7,923.8 1547.6,919.6 1556.8,916.3 1566.3,913.9 1576.0,912.5 1585.8,912.0 1686.5,912.0 1699.6,912.9 1709.2,914.6 1721.8,918.4 1733.7,923.8 1744.8,930.7 1752.5,936.8 1759.5,943.6 1765.9,951.1 1776.5,965.6 1786.4,976.3 1792.9,982.0 1799.8,987.3 1807.1,992.1 1814.8,996.3 1822.7,999.9 1833.0,1003.6 1842.1,1006.0 1850.6,1007.6 1859.3,1008.6 1870.3,1008.9 1879.6,1008.3 1888.2,1007.2 1899.6,1004.6 1910.6,1001.0 1921.2,996.3 1931.3,990.5 1940.8,983.8 1949.6,976.3 1957.7,967.8 1964.8,958.7 1971.0,948.9 1976.2,938.5 1980.4,927.6 1983.5,916.4 1985.5,905.0 1986.4,893.4 1986.1,881.8 1984.7,870.3 1982.9,861.7 1979.5,850.6 1976.2,842.5 1972.1,834.1 1966.4,824.7 1961.3,817.7 1955.3,810.5 1947.5,802.8 1938.5,795.4 1931.3,790.5 1923.8,786.1 1914.3,781.5 1905.1,778.1 1896.8,775.6 1885.4,773.4 1876.7,772.4 1868.0,772.1 1859.3,772.4 1850.6,773.4 1842.1,775.0 1827.5,779.2 1820.0,782.3 1812.2,786.1 1799.3,794.1 1792.9,799.0 1786.4,804.7 1776.5,815.4 1766.1,829.3 1759.8,836.6 1752.8,843.3 1745.2,849.2 1734.2,856.0 1722.5,861.3 1710.1,865.0 1697.4,867.1 1687.8,867.6 1582.7,867.8 1573.1,867.0 1566.7,866.0 1554.1,862.7 1545.1,859.2 1536.4,854.8 1528.2,849.6 1520.5,843.7 1513.5,837.0 1509.1,832.1 1498.2,817.5 1490.7,808.7 1480.9,799.6 1470.8,792.0 1458.3,784.7 1445.0,779.0 1431.1,775.0 1416.9,772.7 1408.2,772.1 1399.5,772.2 1390.9,773.0 1382.3,774.4 1373.9,776.4 1366.2,778.8 1352.3,784.7 1344.7,788.9 1337.9,793.3 1326.1,802.6 1319.9,808.7 1314.2,815.2 1305.7,826.9 1300.0,837.0 1295.3,847.6 1291.7,858.6 1289.1,869.8 1287.7,881.3 1287.4,892.9 1288.3,904.4 1290.3,915.8 1293.4,927.0 1297.5,937.8 1302.7,948.1 1308.9,957.9 1316.0,967.0 1324.0,975.4 1332.8,982.9 1342.2,989.6 1352.3,995.3 1362.9,1000.0 1373.9,1003.6 1385.1,1006.2 1396.6,1007.6 1408.2,1007.9 1419.7,1007.0 1431.1,1005.0 1442.3,1001.9 1453.1,997.8 1463.4,992.6 1473.2,986.4 1482.3,979.3 1490.7,971.3Z" fill="url(#g_c45)"/>
<path d="M1967.9,954.3 1974.0,946.6 1978.4,941.8 1985.7,935.2 1993.6,929.4 2002.0,924.3 2007.9,921.4 2017.0,917.8 2026.4,915.1 2039.3,913.0 2049.1,912.5 2135.1,912.5 2148.0,913.3 2157.5,915.0 2169.9,918.8 2181.7,924.0 2192.7,930.8 2202.8,938.9 2209.6,945.8 2213.7,950.7 2224.4,965.2 2234.2,975.7 2240.7,981.5 2247.6,986.7 2254.9,991.5 2262.5,995.6 2273.0,1000.3 2281.2,1003.1 2289.6,1005.3 2298.1,1006.9 2306.7,1007.9 2317.7,1008.2 2326.9,1007.6 2335.5,1006.5 2346.8,1003.9 2357.8,1000.3 2368.3,995.6 2378.4,989.9 2387.8,983.3 2396.6,975.7 2404.5,967.4 2411.6,958.3 2417.8,948.5 2423.0,938.2 2427.2,927.4 2430.2,916.3 2432.2,904.9 2433.1,893.4 2432.8,881.8 2431.4,870.4 2428.8,859.1 2426.2,850.8 2423.0,842.8 2418.9,834.5 2413.3,825.1 2408.2,818.1 2402.2,811.0 2394.4,803.3 2387.8,797.7 2378.9,791.4 2370.9,786.7 2363.1,782.9 2354.0,779.3 2344.0,776.3 2335.5,774.5 2324.1,773.1 2315.4,772.8 2306.7,773.1 2298.1,774.1 2289.6,775.7 2275.7,779.7 2267.7,782.9 2259.9,786.7 2247.1,794.6 2240.7,799.5 2234.2,805.3 2224.4,815.8 2214.1,829.8 2207.5,837.3 2200.2,844.1 2192.3,850.2 2183.8,855.4 2171.8,861.0 2159.1,865.0 2146.0,867.3 2136.0,867.8 2046.1,868.2 2036.3,867.4 2029.8,866.4 2023.4,864.9 2014.0,861.9 2004.9,858.0 1996.3,853.2 1990.8,849.6 1983.1,843.5 1976.0,836.6 1971.7,831.7 1961.3,817.7 1953.8,808.9 1944.6,800.2 1933.8,792.1 1921.2,784.7 1907.9,779.0 1893.9,775.0 1879.6,772.7 1870.9,772.1 1862.8,772.2 1847.8,773.8 1839.2,775.6 1830.9,778.1 1816.8,783.7 1809.6,787.5 1802.2,792.1 1795.2,797.2 1788.5,802.8 1778.3,813.2 1772.9,820.0 1768.0,827.2 1762.2,837.3 1757.5,847.9 1753.9,858.9 1751.3,870.3 1749.9,881.8 1749.6,893.4 1750.5,905.0 1752.5,916.4 1755.6,927.6 1759.8,938.5 1765.0,948.9 1771.2,958.7 1778.3,967.8 1786.4,976.3 1795.2,983.8 1804.7,990.5 1814.8,996.3 1825.4,1001.0 1836.4,1004.6 1847.8,1007.2 1859.3,1008.6 1870.9,1008.9 1882.5,1008.0 1893.9,1006.0 1905.1,1002.9 1916.0,998.7 1926.4,993.5 1936.2,987.3 1945.3,980.2 1953.8,972.1 1961.3,963.3Z" fill="url(#g_c56)"/>
<path d="M2316.0,416.7 2315.3,407.3 2313.6,397.4 2310.9,387.7 2307.3,378.3 2302.8,369.4 2297.4,360.9 2291.3,353.0 2284.3,345.7 2276.7,339.2 2268.5,333.4 2259.8,328.4 2250.6,324.4 2241.1,321.2 2231.3,319.0 2221.3,317.8 2211.3,317.5 2201.3,318.3 2191.4,320.0 2181.7,322.7 2174.1,325.5 2165.6,329.6 2157.0,334.7 2148.9,340.7 2141.5,347.5 2134.7,354.9 2128.7,363.0 2123.6,371.6 2119.3,380.7 2115.9,390.1 2113.5,399.8 2112.0,409.8 2111.5,419.8 2112.0,429.8 2114.0,442.2 2116.7,451.9 2121.1,463.0 2126.1,472.4 2131.6,480.7 2138.4,489.0 2147.0,497.3 2154.9,503.4 2163.4,508.8 2172.3,513.3 2181.7,516.9 2189.5,519.2 2198.8,521.0 2206.3,521.8 2221.5,522.7 2234.2,524.9 2240.4,526.6 2249.5,530.0 2261.1,535.7 2269.2,541.0 2276.8,547.1 2281.5,551.5 2288.0,558.7 2293.7,566.5 2298.7,574.8 2301.6,580.6 2305.2,589.6 2310.5,607.2 2315.1,626.3 2317.9,643.6 2320.0,663.5 2320.6,682.4 2319.9,702.6 2318.0,715.5 2314.5,727.9 2310.8,737.0 2304.6,748.3 2297.0,758.8 2290.4,765.9 2283.1,772.4 2275.3,778.2 2269.8,781.6 2254.9,789.5 2243.0,797.7 2236.4,803.3 2230.2,809.3 2224.4,815.8 2219.2,822.7 2214.4,830.0 2210.0,838.1 2205.6,848.1 2202.8,856.3 2200.6,864.7 2199.0,873.2 2198.0,882.5 2197.7,893.4 2198.6,904.9 2200.6,916.3 2203.6,927.4 2206.9,936.1 2211.6,946.0 2217.5,955.9 2224.4,965.2 2232.2,973.7 2240.7,981.5 2250.0,988.4 2259.9,994.3 2270.4,999.2 2281.2,1003.1 2292.4,1005.9 2303.9,1007.6 2315.4,1008.2 2326.9,1007.6 2338.4,1005.9 2349.6,1003.1 2360.4,999.2 2370.9,994.3 2380.8,988.4 2390.1,981.5 2398.6,973.7 2406.4,965.2 2413.3,955.9 2419.2,946.0 2424.1,935.5 2428.0,924.7 2430.8,913.5 2432.5,902.0 2433.1,890.5 2432.2,876.1 2430.1,864.1 2426.2,850.8 2420.5,837.6 2414.8,827.5 2408.2,818.1 2400.6,809.3 2389.5,798.0 2383.4,790.5 2379.8,785.2 2376.5,779.6 2372.3,771.0 2369.0,761.9 2367.2,755.7 2365.4,746.2 2364.3,733.4 2366.4,692.8 2366.6,678.9 2366.2,665.8 2363.8,639.6 2361.9,626.9 2359.5,614.3 2353.2,589.0 2345.5,565.9 2340.8,554.3 2335.5,543.0 2330.7,534.3 2321.9,519.7 2317.5,510.8 2313.1,498.3 2310.4,485.3 2309.4,472.1 2309.8,462.2 2311.2,452.3 2315.0,434.8 2316.0,424.8Z" fill="url(#g_c67)"/>
<path d="M890.7,312.3 870.4,297.1 857.0,289.1 842.9,282.4 828.2,277.2 813.1,273.4 797.6,271.1 782.0,270.3 766.4,271.1 750.9,273.4 735.8,277.2 721.1,282.4 707.0,289.1 693.6,297.1 681.0,306.4 669.4,316.9 658.9,328.5 649.6,341.1 641.6,354.5 634.9,368.6 629.7,383.3 625.9,398.4 623.6,413.9 622.8,429.5 623.6,445.1 625.9,460.6 629.7,475.7 634.9,490.4 641.6,504.5 649.6,517.9 658.9,530.5 669.4,542.1 681.0,552.6 690.3,559.7 697.4,564.3 707.0,569.9 717.5,575.0 728.4,579.4 739.0,582.8 747.1,584.8 758.6,587.0 767.0,588.0 778.1,588.7 789.8,588.5 800.9,587.6 809.2,586.4 820.7,583.9 831.9,580.7 839.3,578.0 850.1,573.4 860.5,568.0 870.4,561.9 879.9,555.0 888.9,547.5 895.0,541.6 902.5,533.5 909.9,524.3 916.5,514.7 922.4,504.5 927.5,494.0 931.9,483.1 935.4,472.0 937.3,464.4 941.1,441.9 942.5,435.5 945.5,426.0 950.8,414.0 957.7,402.8 961.7,397.6 968.3,390.2 973.1,385.7 980.8,379.6 991.9,372.6 1000.8,368.3 1008.7,365.4 1030.1,358.5 1049.1,353.1 1087.8,343.5 1135.8,333.5 1178.5,326.2 1224.0,319.8 1275.2,314.0 1331.7,309.0 1376.5,306.0 1411.9,304.4 1459.5,303.1 1527.1,302.1 1553.7,302.2 1592.9,303.1 1629.9,304.5 1667.4,306.3 1711.9,309.4 1748.2,312.5 1783.9,316.3 1828.8,321.8 1863.8,327.0 1891.0,331.7 1926.9,338.6 1962.6,346.6 1987.8,353.0 2005.5,358.1 2024.4,364.0 2050.1,372.7 2059.3,376.4 2065.2,379.4 2076.3,386.5 2084.0,392.8 2091.0,399.8 2097.3,407.4 2102.9,415.7 2106.1,421.4 2110.2,430.5 2112.4,436.7 2116.7,451.9 2121.3,463.5 2124.8,470.2 2128.7,476.6 2133.2,482.7 2138.0,488.5 2143.7,494.3 2150.9,500.4 2159.1,506.2 2167.3,510.9 2174.7,514.3 2184.1,517.7 2193.8,520.1 2201.3,521.3 2211.3,522.1 2221.9,521.8 2233.8,520.1 2243.5,517.7 2252.9,514.3 2262.0,510.0 2270.6,504.9 2278.7,498.9 2286.1,492.1 2292.9,484.7 2298.9,476.6 2304.3,467.5 2309.2,456.6 2312.4,447.1 2314.6,437.3 2315.8,427.3 2316.1,419.8 2315.6,409.8 2314.2,400.4 2312.4,392.5 2309.9,384.8 2306.3,376.1 2301.5,367.2 2297.4,360.9 2291.3,353.0 2286.1,347.5 2280.2,341.9 2272.7,336.2 2264.8,331.1 2257.5,327.3 2248.8,323.7 2241.1,321.2 2231.3,319.0 2219.4,317.7 2208.8,317.6 2198.8,318.6 2188.9,320.6 2179.3,323.5 2172.3,326.3 2156.9,333.5 2144.2,337.6 2137.7,339.0 2127.8,340.3 2117.8,340.6 2107.8,339.9 2101.2,338.9 2091.5,336.5 2038.7,318.2 2001.3,307.0 1973.2,299.7 1936.1,291.5 1890.0,282.7 1844.0,275.5 1780.0,267.5 1725.0,262.3 1679.2,258.9 1631.7,256.5 1577.5,254.7 1536.1,254.1 1469.9,254.9 1409.9,256.4 1362.6,258.7 1304.5,263.0 1258.8,267.5 1208.4,273.5 1162.4,280.2 1126.5,286.4 1085.0,294.9 1052.7,302.5 1016.6,312.4 974.0,326.4 964.5,328.5 951.7,329.9 942.0,329.8 932.4,328.8 922.9,326.9 916.7,325.1 907.7,321.7 899.0,317.4Z" fill="url(#g_c71)"/>
</g>
<clipPath id="bodyclip"><path d="M871.6,298.0 863.8,292.9 850.6,285.9 839.3,281.0 828.2,277.2 809.2,272.6 793.7,270.7 782.0,270.3 766.4,271.1 758.6,272.0 747.1,274.2 735.8,277.2 717.5,284.0 707.0,289.1 696.8,295.0 687.2,301.6 678.0,309.0 669.4,316.9 661.5,325.5 654.1,334.7 647.5,344.3 641.6,354.5 636.5,365.0 632.1,375.9 628.6,387.0 625.9,398.4 624.0,410.0 622.8,429.5 624.1,459.2 623.3,469.0 621.5,478.7 617.7,491.2 612.2,503.2 605.3,514.3 596.9,524.4 592.3,529.1 584.7,535.4 550.8,559.6 542.5,564.5 536.7,567.3 530.8,569.8 521.6,572.8 515.4,574.2 505.8,575.7 499.4,576.2 489.8,576.1 477.0,574.5 461.3,570.6 451.3,568.9 441.1,568.1 431.0,568.4 420.9,569.6 411.0,571.8 401.4,575.0 387.6,581.5 375.0,590.0 367.3,596.6 360.3,604.0 352.6,614.1 348.6,620.5 343.1,631.9 338.9,643.9 336.2,656.9 335.2,669.0 335.5,679.1 336.7,689.2 339.7,701.5 343.1,711.1 347.4,720.2 352.6,728.9 358.7,737.1 363.7,742.8 371.1,749.8 379.1,756.0 387.1,761.2 395.0,767.3 403.1,776.1 406.4,781.0 411.6,791.8 413.5,797.5 415.0,805.4 415.5,813.3 415.5,856.7 414.3,867.0 412.1,874.9 408.9,882.5 405.9,887.9 401.0,894.5 396.8,899.1 392.1,903.2 377.0,913.4 371.1,918.2 360.3,929.0 355.3,935.2 347.4,947.8 342.1,959.3 339.7,966.5 337.2,976.3 336.0,983.8 335.2,996.5 336.0,1009.2 337.7,1019.2 339.7,1026.5 344.1,1038.4 348.6,1047.5 354.1,1056.0 360.3,1064.0 369.2,1073.1 375.0,1078.0 383.3,1083.9 392.1,1088.9 401.4,1093.0 411.0,1096.2 420.9,1098.4 431.0,1099.6 441.1,1099.9 454.4,1098.7 461.3,1097.4 469.9,1095.0 478.2,1092.0 485.1,1088.9 496.0,1082.5 512.3,1071.4 520.9,1067.0 526.8,1064.5 536.0,1061.6 545.5,1059.5 555.1,1058.3 564.7,1058.1 574.4,1058.9 583.9,1060.5 801.2,1109.0 810.5,1111.6 822.5,1116.3 831.0,1120.9 841.5,1128.2 851.1,1136.9 857.5,1144.1 863.1,1151.9 868.0,1160.3 875.4,1175.3 884.0,1188.1 894.4,1199.5 900.2,1204.7 906.8,1209.7 915.0,1214.9 921.9,1218.4 935.7,1223.8 943.8,1225.9 959.1,1228.2 967.4,1228.5 977.1,1228.0 992.3,1225.4 999.7,1223.2 1007.5,1220.3 1016.3,1216.1 1025.1,1210.8 1033.4,1204.7 1041.0,1197.7 1048.0,1190.1 1056.9,1177.5 1060.6,1170.7 1064.8,1161.3 1069.2,1146.5 1073.4,1125.0 1076.4,1115.8 1080.3,1106.9 1085.0,1098.4 1090.5,1090.4 1096.8,1083.0 1103.8,1076.2 1111.4,1070.1 1122.3,1063.2 1255.4,991.4 1261.2,988.7 1270.3,985.3 1282.8,982.3 1295.6,980.9 1302.1,980.8 1311.7,981.5 1324.4,983.8 1333.6,986.6 1342.6,990.3 1352.3,995.3 1362.9,1000.0 1373.9,1003.6 1385.1,1006.2 1396.6,1007.6 1408.2,1007.9 1419.7,1007.0 1431.1,1005.0 1442.3,1001.9 1453.1,997.8 1460.9,994.0 1470.8,988.0 1480.1,981.1 1490.7,971.3 1498.2,962.5 1510.7,946.1 1517.5,939.0 1525.0,932.7 1533.0,927.1 1538.7,923.8 1547.6,919.6 1556.8,916.3 1566.3,913.9 1576.0,912.5 1585.8,912.0 1686.5,912.0 1699.6,912.9 1709.2,914.6 1721.8,918.4 1733.7,923.8 1744.8,930.7 1752.5,936.8 1759.5,943.6 1765.9,951.1 1776.5,965.6 1786.4,976.3 1795.2,983.8 1807.1,992.1 1814.8,996.3 1822.7,999.9 1836.4,1004.6 1850.6,1007.6 1859.3,1008.6 1870.3,1008.9 1882.5,1008.0 1899.6,1004.6 1916.0,998.7 1926.4,993.5 1936.2,987.3 1949.6,976.3 1957.7,967.8 1974.0,946.6 1978.4,941.8 1985.7,935.2 1993.6,929.4 2002.0,924.3 2007.9,921.4 2017.0,917.8 2026.4,915.1 2039.3,913.0 2049.1,912.5 2135.1,912.5 2148.0,913.3 2157.5,915.0 2169.9,918.8 2181.7,924.0 2192.7,930.8 2202.8,938.9 2209.6,945.8 2224.4,965.2 2232.2,973.7 2240.7,981.5 2250.0,988.4 2262.5,995.6 2273.0,1000.3 2281.2,1003.1 2292.4,1005.9 2306.7,1007.9 2317.7,1008.2 2326.9,1007.6 2335.5,1006.5 2346.8,1003.9 2360.4,999.2 2368.3,995.6 2378.4,989.9 2387.8,983.3 2396.6,975.7 2406.4,965.2 2413.3,955.9 2417.8,948.5 2424.1,935.5 2428.0,924.7 2430.8,913.5 2432.2,904.9 2433.1,893.4 2432.2,876.1 2428.8,859.1 2426.2,850.8 2423.0,842.8 2418.9,834.5 2414.8,827.5 2408.2,818.1 2402.2,811.0 2389.5,798.0 2383.4,790.5 2376.5,779.6 2372.3,771.0 2369.0,761.9 2367.2,755.7 2365.4,746.2 2364.3,733.4 2366.4,692.8 2366.6,678.9 2366.2,665.8 2363.8,639.6 2359.5,614.3 2353.2,589.0 2345.5,565.9 2340.8,554.3 2335.5,543.0 2321.9,519.7 2317.5,510.8 2313.1,498.3 2310.4,485.3 2309.4,472.1 2309.8,462.2 2311.2,452.3 2315.0,434.8 2316.1,419.8 2315.3,407.3 2312.4,392.5 2307.3,378.3 2302.8,369.4 2297.4,360.9 2291.3,353.0 2284.3,345.7 2272.7,336.2 2259.8,328.4 2250.6,324.4 2241.1,321.2 2231.3,319.0 2221.3,317.8 2211.3,317.5 2201.3,318.3 2191.4,320.0 2181.7,322.7 2172.3,326.3 2156.9,333.5 2144.2,337.6 2137.7,339.0 2127.8,340.3 2117.8,340.6 2107.8,339.9 2101.2,338.9 2091.5,336.5 2038.7,318.2 2001.3,307.0 1973.2,299.7 1936.1,291.5 1890.0,282.7 1844.0,275.5 1780.0,267.5 1725.0,262.3 1679.2,258.9 1631.7,256.5 1577.5,254.7 1536.1,254.1 1469.9,254.9 1409.9,256.4 1362.6,258.7 1304.5,263.0 1258.8,267.5 1208.4,273.5 1162.4,280.2 1126.5,286.4 1085.0,294.9 1052.7,302.5 1016.6,312.4 974.0,326.4 964.5,328.5 951.7,329.9 942.0,329.8 932.4,328.8 922.9,326.9 916.7,325.1 907.7,321.7 899.0,317.4 890.7,312.3ZM496.0,757.5 508.0,748.1 518.5,737.1 524.6,728.9 529.8,720.2 533.1,713.4 537.5,701.5 540.0,691.7 541.5,681.6 543.0,660.7 545.6,648.0 548.7,638.8 551.2,632.8 555.7,624.2 559.2,618.8 565.0,611.0 573.9,601.6 584.0,593.4 610.5,574.8 618.9,570.1 627.8,566.2 640.1,562.5 652.9,560.3 665.8,559.8 675.4,560.6 685.0,562.2 694.3,564.8 703.3,568.3 724.7,578.0 742.7,583.8 750.9,585.6 762.5,587.5 774.2,588.5 785.9,588.7 801.5,587.5 813.1,585.6 824.5,582.9 839.3,578.0 866.0,566.4 875.4,563.6 885.0,561.8 898.0,560.8 911.0,561.5 923.7,563.9 936.1,567.9 945.0,572.0 953.4,576.9 976.4,593.8 981.4,598.1 988.3,605.1 994.6,612.7 1001.6,623.8 1006.0,632.7 1008.3,638.8 1011.2,648.2 1013.4,661.2 1014.3,679.2 1015.5,689.5 1018.5,702.0 1022.0,711.7 1028.6,725.0 1036.2,736.1 1043.0,743.9 1050.4,751.0 1060.7,758.8 1067.8,763.2 1076.4,767.5 1086.1,771.2 1098.5,774.5 1106.1,775.7 1116.4,776.5 1124.8,776.3 1137.0,775.0 1154.2,771.3 1163.9,770.2 1176.9,770.2 1189.9,772.0 1199.3,774.4 1205.5,776.5 1217.4,781.9 1228.4,788.8 1250.9,806.1 1260.4,814.9 1268.7,824.9 1274.0,833.1 1279.7,844.7 1283.1,853.8 1285.5,863.3 1287.0,872.9 1287.4,880.4 1285.9,887.2 1282.9,896.4 1280.4,902.4 1275.9,911.1 1270.7,919.2 1264.6,926.9 1257.9,933.9 1247.9,942.1 1239.7,947.4 1094.9,1025.7 1082.9,1030.8 1070.3,1034.2 1057.4,1036.0 1044.4,1036.1 1034.7,1035.0 1025.1,1033.0 1015.8,1030.1 999.7,1023.8 987.3,1020.5 974.5,1018.8 966.8,1018.5 951.4,1019.6 936.3,1023.0 921.9,1028.6 908.5,1036.2 893.8,1047.4 885.6,1052.9 876.9,1057.5 867.8,1061.2 855.1,1064.7 842.1,1066.6 832.3,1066.8 819.2,1065.7 605.5,1018.2 592.8,1014.5 583.6,1010.6 574.9,1005.8 566.7,1000.2 556.7,991.4 550.0,984.1 544.1,976.1 539.0,967.6 528.6,945.5 520.1,932.9 511.7,923.4 504.2,916.6 496.0,910.5 488.8,905.9 483.9,902.1 479.4,897.8 475.3,893.2 470.7,886.4 467.0,879.0 464.3,871.2 462.6,863.1 462.1,854.9 462.2,809.0 463.7,798.9 466.9,789.2 469.5,783.7 472.6,778.5 479.0,770.5 486.6,763.7ZM1495.3,813.9 1488.7,806.6 1482.3,800.7 1468.4,790.4 1458.3,784.7 1447.7,780.0 1439.5,777.2 1431.1,775.0 1416.9,772.7 1408.2,772.1 1399.5,772.2 1390.9,773.0 1376.7,775.6 1360.3,780.7 1350.9,782.9 1341.3,784.2 1331.6,784.5 1318.8,783.5 1306.1,780.9 1293.9,776.7 1282.4,770.9 1274.3,765.6 1262.8,756.8 1253.1,748.2 1246.6,741.1 1242.6,735.9 1237.4,727.8 1234.3,722.1 1230.4,713.2 1228.3,707.1 1225.3,694.5 1224.2,684.9 1224.0,668.9 1223.2,658.6 1221.4,648.5 1218.7,638.6 1213.9,626.6 1210.4,619.7 1204.8,611.0 1195.0,599.1 1185.0,589.8 1179.5,585.7 1171.3,580.4 1163.9,576.6 1156.8,573.5 1147.0,570.3 1139.5,568.5 1129.3,567.0 1119.0,566.5 1103.6,567.6 1082.6,572.5 1072.9,574.1 1063.0,574.8 1053.1,574.5 1040.1,572.6 1027.4,569.0 1015.3,563.7 1004.1,556.9 977.2,536.9 967.6,528.1 963.2,523.3 957.3,515.6 952.1,507.3 949.2,501.5 945.4,492.5 941.8,480.0 940.2,470.4 939.5,457.4 940.4,446.3 942.5,435.5 945.5,426.0 950.8,414.0 957.7,402.8 961.7,397.6 968.3,390.2 973.1,385.7 980.8,379.6 991.9,372.6 1000.8,368.3 1030.1,358.5 1049.1,353.1 1087.8,343.5 1135.8,333.5 1178.5,326.2 1224.0,319.8 1275.2,314.0 1331.7,309.0 1376.5,306.0 1411.9,304.4 1459.5,303.1 1527.1,302.1 1553.7,302.2 1592.9,303.1 1667.4,306.3 1711.9,309.4 1748.2,312.5 1783.9,316.3 1828.8,321.8 1863.8,327.0 1891.0,331.7 1926.9,338.6 1962.6,346.6 1987.8,353.0 2024.4,364.0 2050.1,372.7 2059.3,376.4 2065.2,379.4 2076.3,386.5 2084.0,392.8 2091.0,399.8 2097.3,407.4 2102.9,415.7 2106.1,421.4 2110.2,430.5 2112.4,436.7 2116.7,451.9 2121.1,463.0 2124.8,470.2 2133.2,482.7 2138.0,488.5 2143.7,494.3 2150.9,500.4 2159.1,506.2 2167.3,510.9 2174.7,514.3 2184.1,517.7 2193.8,520.1 2206.3,521.8 2221.5,522.7 2234.2,524.9 2240.4,526.6 2249.5,530.0 2261.1,535.7 2269.2,541.0 2276.8,547.1 2281.5,551.5 2288.0,558.7 2293.7,566.5 2298.7,574.8 2301.6,580.6 2305.2,589.6 2310.5,607.2 2315.1,626.3 2317.9,643.6 2320.0,663.5 2320.6,682.4 2319.9,702.6 2318.0,715.5 2314.5,727.9 2310.8,737.0 2304.6,748.3 2297.0,758.8 2290.4,765.9 2283.1,772.4 2275.3,778.2 2254.9,789.5 2247.1,794.6 2236.4,803.3 2230.2,809.3 2224.4,815.8 2214.1,829.8 2207.5,837.3 2200.2,844.1 2192.3,850.2 2183.8,855.4 2171.8,861.0 2159.1,865.0 2146.0,867.3 2136.0,867.8 2046.1,868.2 2036.3,867.4 2029.8,866.4 2023.4,864.9 2014.0,861.9 2004.9,858.0 1996.3,853.2 1990.8,849.6 1983.1,843.5 1976.0,836.6 1971.7,831.7 1961.3,817.7 1953.8,808.9 1944.6,800.2 1933.8,792.1 1921.2,784.7 1914.3,781.5 1905.1,778.1 1893.9,775.0 1885.4,773.4 1876.7,772.4 1868.0,772.1 1859.3,772.4 1850.6,773.4 1842.1,775.0 1827.5,779.2 1820.0,782.3 1812.2,786.1 1799.3,794.1 1792.9,799.0 1786.4,804.7 1776.5,815.4 1766.1,829.3 1759.8,836.6 1752.8,843.3 1745.2,849.2 1734.2,856.0 1722.5,861.3 1710.1,865.0 1697.4,867.1 1687.8,867.6 1582.7,867.8 1573.1,867.0 1566.7,866.0 1554.1,862.7 1545.1,859.2 1536.4,854.8 1528.2,849.6 1520.5,843.7 1513.5,837.0 1509.1,832.1Z"/></clipPath>
<g clip-path="url(#bodyclip)"><g filter="url(#halo)">
<circle cx="782.0" cy="429.5" r="167.2" fill="#6e9cdc"/>
<circle cx="438.6" cy="671.5" r="111.4" fill="#72cd96"/>
<circle cx="438.6" cy="996.5" r="111.4" fill="#72cd96"/>
<circle cx="1119.0" cy="671.5" r="113.0" fill="#f4ae68"/>
<circle cx="966.8" cy="1123.5" r="113.0" fill="#f4ae68"/>
<circle cx="1405.3" cy="890.0" r="125.9" fill="#b888e0"/>
<circle cx="1868.0" cy="890.5" r="126.4" fill="#5cb4b0"/>
<circle cx="2315.4" cy="890.5" r="125.7" fill="#e87676"/>
<circle cx="2213.8" cy="419.8" r="110.3" fill="#98d4ec"/>
</g></g>
<!-- dashes -->
<g>
<path d="M522.3,608.1 L628.0,536.5" fill="none" stroke="url(#g_c2A1d)" stroke-width="4.4" stroke-dasharray="9.5 15.3" stroke-linecap="round"/>
<path d="M920.0,523.0 L1021.0,598.3" fill="none" stroke="url(#g_c12Bd)" stroke-width="4.6" stroke-dasharray="11.6 16" stroke-linecap="round"/>
<path d="M1203.0,739.7 L1291.5,808.0" fill="none" stroke="url(#g_c2B4d)" stroke-width="4.6" stroke-dasharray="11.6 16" stroke-linecap="round"/>
<path d="M438.6,776.0 L438.6,876.0" fill="none" stroke="url(#g_c2A3Ad)" stroke-width="4.6" stroke-dasharray="11.6 16" stroke-linecap="round"/>
<path d="M533.3,1025.6 L843.0,1094.7" fill="none" stroke="url(#g_c3A3Bd)" stroke-width="4.6" stroke-dasharray="11.6 16" stroke-linecap="round"/>
<path d="M1051.8,1075.2 L1278.5,952.6" fill="none" stroke="url(#g_c3B4d)" stroke-width="4.6" stroke-dasharray="11.6 16" stroke-linecap="round"/>
<path d="M1518.8,890.3 L1728.0,890.3" fill="none" stroke="url(#g_c45d)" stroke-width="4.6" stroke-dasharray="11.6 16" stroke-linecap="round"/>
<path d="M1984.5,890.5 L2174.0,890.5" fill="none" stroke="url(#g_c56d)" stroke-width="4.6" stroke-dasharray="11.6 16" stroke-linecap="round"/>
<path d="M2336.5,764.6 L2336.9,761.5 L2337.4,758.5 L2337.8,755.5 L2338.3,752.5 L2338.7,749.5 L2339.1,746.4 L2339.6,743.3 L2340.0,740.1 L2340.3,736.8 L2340.7,733.3 L2341.1,728.4 L2341.6,723.2 L2342.0,717.8 L2342.4,712.1 L2342.7,706.4 L2343.0,700.7 L2343.3,695.0 L2343.5,689.5 L2343.6,684.2 L2343.6,679.2 L2343.5,675.4 L2343.5,671.8 L2343.3,668.3 L2343.1,664.8 L2342.9,661.4 L2342.6,658.1 L2342.3,654.8 L2342.0,651.5 L2341.7,648.2 L2341.3,645.0 L2340.9,642.1 L2340.6,639.2 L2340.1,636.3 L2339.7,633.5 L2339.3,630.7 L2338.8,627.9 L2338.3,625.1 L2337.7,622.3 L2337.1,619.5 L2336.5,616.6 L2335.8,613.5 L2335.1,610.4 L2334.3,607.2 L2333.5,604.0 L2332.6,600.8 L2331.7,597.6 L2330.8,594.5 L2329.9,591.4 L2329.0,588.3 L2328.0,585.3 L2327.1,582.6 L2326.2,579.9 L2325.2,577.2 L2324.2,574.6 L2323.2,572.0 L2322.2,569.4 L2321.2,566.9 L2320.1,564.4 L2319.1,562.0 L2318.0,559.6 L2317.1,557.6 L2316.1,555.7 L2315.1,553.8 L2314.2,551.9 L2313.2,550.1 L2312.2,548.3 L2311.2,546.5 L2310.1,544.7 L2309.1,542.9 L2308.0,541.1 L2306.9,539.3 L2305.7,537.4 L2304.5,535.6 L2303.3,533.8 L2302.1,532.0 L2300.9,530.2 L2299.7,528.4 L2298.4,526.6 L2297.2,524.8 L2296.0,523.0" fill="none" stroke="url(#g_c67d)" stroke-width="4.6" stroke-dasharray="11.6 16" stroke-linecap="round"/>
<path d="M2112.5,371.0 L2101.6,367.1 L2090.8,363.1 L2080.0,359.1 L2069.1,355.0 L2058.3,351.0 L2047.4,347.0 L2036.6,343.1 L2025.7,339.4 L2014.7,335.9 L2003.8,332.6 L1993.0,329.6 L1982.2,326.7 L1971.3,324.0 L1960.4,321.4 L1949.6,318.9 L1938.7,316.6 L1927.8,314.3 L1916.8,312.1 L1905.9,310.0 L1895.0,308.0 L1884.2,306.1 L1873.3,304.2 L1862.5,302.5 L1851.6,300.8 L1840.8,299.3 L1829.9,297.8 L1819.0,296.4 L1808.2,295.0 L1797.3,293.7 L1786.4,292.4 L1775.5,291.2 L1764.7,290.0 L1753.8,288.9 L1743.0,287.9 L1732.1,287.0 L1721.2,286.0 L1710.3,285.2 L1699.5,284.4 L1688.6,283.6 L1677.7,282.9 L1666.7,282.2 L1655.4,281.6 L1644.0,281.1 L1632.6,280.5 L1621.2,280.1 L1610.0,279.7 L1599.1,279.3 L1588.6,279.0 L1578.5,278.7 L1569.0,278.5 L1562.6,278.4 L1556.7,278.3 L1551.2,278.2 L1545.8,278.1 L1540.6,278.1 L1535.3,278.1 L1529.9,278.1 L1524.2,278.2 L1518.1,278.2 L1511.4,278.3 L1500.1,278.4 L1487.9,278.6 L1474.8,278.8 L1461.2,279.0 L1447.0,279.3 L1432.6,279.7 L1418.1,280.1 L1403.6,280.7 L1389.3,281.3 L1375.5,282.0 L1361.8,282.8 L1348.1,283.7 L1334.3,284.7 L1320.4,285.8 L1306.6,287.0 L1292.9,288.2 L1279.3,289.5 L1265.9,290.8 L1252.6,292.3 L1239.7,293.8 L1228.3,295.1 L1217.0,296.5 L1205.9,298.0 L1194.9,299.5 L1184.1,301.1 L1173.3,302.7 L1162.6,304.4 L1152.0,306.2 L1141.5,308.1 L1131.0,310.0 L1121.1,311.9 L1111.3,313.9 L1101.5,315.9 L1091.8,318.0 L1082.1,320.2 L1072.6,322.4 L1063.2,324.7 L1053.9,327.0 L1044.8,329.4 L1035.9,331.8 L1028.0,334.1 L1019.8,336.6 L1011.5,339.2 L1003.3,341.9 L995.2,344.6 L987.6,347.2 L980.5,349.6 L974.1,351.9 L968.5,353.8 L963.9,355.4 L962.4,355.9 L961.1,356.4 L959.9,356.8 L958.8,357.2 L957.8,357.5 L956.9,357.9 L956.0,358.2 L955.0,358.6 L954.0,358.9 L953.0,359.3" fill="none" stroke="url(#g_c71d)" stroke-width="4.6" stroke-dasharray="11.6 16" stroke-linecap="round"/>
<path d="M645.9,521 L620.9,524.2 L635.7,545.3Z" fill="#2c7c9c" stroke="#2c7c9c" stroke-width="0.8" stroke-linejoin="round"/>
<path d="M1038,611 L1011,608 L1029.5,589.6Z" fill="#c6701c" stroke="#c6701c" stroke-width="0.8" stroke-linejoin="round"/>
<path d="M1307.5,820.4 L1283.9,815.3 L1299.5,797.6Z" fill="#7c4a9c" stroke="#7c4a9c" stroke-width="0.8" stroke-linejoin="round"/>
<path d="M438.6,895.5 L425,874 L452.2,874Z" fill="#3a9a5c" stroke="#3a9a5c" stroke-width="0.8" stroke-linejoin="round"/>
<path d="M863.9,1099.4 L845.4,1082.9 L839.7,1107.4Z" fill="#c6741e" stroke="#c6741e" stroke-width="0.8" stroke-linejoin="round"/>
<path d="M1296.7,942.8 L1272.5,940.6 L1284.4,963.3Z" fill="#7c4a9c" stroke="#7c4a9c" stroke-width="0.8" stroke-linejoin="round"/>
<path d="M1749.6,890.3 L1726.8,877 L1726.8,903.5Z" fill="#1f8282" stroke="#1f8282" stroke-width="0.8" stroke-linejoin="round"/>
<path d="M2193.8,890.5 L2173,877 L2173,903.5Z" fill="#b43c3c" stroke="#b43c3c" stroke-width="0.8" stroke-linejoin="round"/>
<path d="M2283.8,507 L2305.2,514.1 L2283.8,529.7Z" fill="#5a96ba" stroke="#5a96ba" stroke-width="0.8" stroke-linejoin="round"/>
<path d="M934,367 L949,346.7 L959.2,371.7Z" fill="#4e9ab6" stroke="#4e9ab6" stroke-width="0.8" stroke-linejoin="round"/>
</g>
<!-- discs -->
<g>
<circle cx="782.0" cy="429.5" r="154.0" fill="#6696e2"/>
<circle cx="782.0" cy="429.5" r="140.1" fill="#2f66c0"/>
<circle cx="782.0" cy="429.5" r="135.4" fill="#245098"/>
<circle cx="438.6" cy="671.5" r="88.1" fill="#98f0b8"/>
<circle cx="438.6" cy="671.5" r="83.9" fill="#58b880"/>
<circle cx="438.6" cy="671.5" r="78.6" fill="#3b9460"/>
<circle cx="438.6" cy="996.5" r="88.1" fill="#98f0b8"/>
<circle cx="438.6" cy="996.5" r="83.9" fill="#58b880"/>
<circle cx="438.6" cy="996.5" r="78.6" fill="#3b9460"/>
<circle cx="1119.0" cy="671.5" r="88.8" fill="#f8c48c"/>
<circle cx="1119.0" cy="671.5" r="84.2" fill="#e88c28"/>
<circle cx="1119.0" cy="671.5" r="79.3" fill="#d87812"/>
<circle cx="966.8" cy="1123.5" r="88.8" fill="#f8c48c"/>
<circle cx="966.8" cy="1123.5" r="84.2" fill="#e88c28"/>
<circle cx="966.8" cy="1123.5" r="79.3" fill="#d87812"/>
<circle cx="1405.3" cy="890.0" r="100.0" fill="#d4b0f0"/>
<circle cx="1405.3" cy="890.0" r="94.4" fill="#a048c8"/>
<circle cx="1405.3" cy="890.0" r="89.7" fill="#7c3a9a"/>
<circle cx="1868.0" cy="890.5" r="100.0" fill="#60d0d8"/>
<circle cx="1868.0" cy="890.5" r="94.9" fill="#28a09c"/>
<circle cx="1868.0" cy="890.5" r="89.8" fill="#108080"/>
<circle cx="2315.4" cy="890.5" r="99.7" fill="#ec8a8a"/>
<circle cx="2315.4" cy="890.5" r="95.0" fill="#e04848"/>
<circle cx="2315.4" cy="890.5" r="90.3" fill="#b83c3c"/>
<circle cx="2213.8" cy="419.8" r="88.6" fill="#c4e8f8"/>
<circle cx="2213.8" cy="419.8" r="83.4" fill="#62c0d2"/>
<circle cx="2213.8" cy="419.8" r="78.3" fill="#5498b8"/>
</g>
<!-- icons -->
<g fill="none" stroke="#e6f0fa" stroke-width="5.5" stroke-linecap="round" stroke-linejoin="miter">
<circle cx="782" cy="364.9" r="38.4"/>
<path d="M782,329 V333.5 M782,400.8 V396.3 M746.1,364.9 H750.6 M817.9,364.9 H813.4"/>
<path stroke-width="5" d="M798.5,348.2 L774.5,358.4 L764.9,382.6 L788.9,372.4 Z"/>
<circle cx="781.6" cy="365.3" r="4.6" fill="#e6f0fa" stroke="none"/>
</g>
<g fill="none" stroke="#e2f4e8" stroke-width="4.4" stroke-linejoin="round" stroke-linecap="round">
<g transform="translate(423.4,686.3) rotate(45)">
<path d="M-31.8,-35 V0 A31.8,31.8 0 0 0 31.8,0 V-35 H14.2 V0 A14.2,14.2 0 0 1 -14.2,0 V-35 Z"/>
<path d="M-31.8,-21 H-14.2 M14.2,-21 H31.8"/>
</g>
<path fill="#e2f4e8" stroke="none" d="M457.7,621.3 L442,626.5 L445.4,630.8 L436.9,640.7 L453.8,633.5 L450,629 Z"/>
<path fill="#e2f4e8" stroke="none" transform="translate(31.9,31.9)" d="M457.7,621.3 L442,626.5 L445.4,630.8 L436.9,640.7 L453.8,633.5 L450,629 Z"/>
</g>
<g fill="none" stroke="#fbe6cc" stroke-width="5" stroke-linejoin="round" stroke-linecap="round">
<path d="M1097,650.4 H1081 A14.5,14.8 0 0 0 1081,680 H1097 Z"/>
<path d="M1097,650.4 C1113,649.5 1127,643 1135.5,632.5 Q1140,628.5 1140,635 V695.5 Q1140,702 1135.5,698 C1127,687.5 1113,681 1097,680"/>
<path d="M1078.5,682 L1084.3,704.5 Q1085.3,708 1088.8,708 H1096 Q1099.6,708 1099,704.5 L1095,682"/>
<path d="M1140,655.9 A9.3,9.3 0 0 1 1140,674.5"/>
<path d="M1156.2,649 L1163.6,643.5 M1158.6,665.2 H1170.6 M1156.2,681.4 L1163.6,686.5"/>
</g>
<g fill="none" stroke="#e2f4e8" stroke-width="4.6" stroke-linejoin="round" stroke-linecap="round">
<path d="M406.4,954.5 H448 A15.7,15.7 0 0 1 463.7,970.2 V988.8 A15.7,15.7 0 0 1 448,1004.5 H421.2 L399.4,1021.1 L402.7,1002.6 A15.7,15.7 0 0 1 390.7,988.8 V970.2 A15.7,15.7 0 0 1 406.4,954.5 Z"/>
<path d="M470.2,982.3 A18,18 0 0 1 488.3,1000 V1006 A18,18 0 0 1 479.5,1022 L479.5,1039.6 L461,1027.6 Q458,1026.2 455,1026.2 H443 A15.5,15.5 0 0 1 427.7,1010.5 V1007.2"/>
<g fill="#e2f4e8" stroke="none"><circle cx="411.5" cy="979.5" r="3.7"/><circle cx="427.2" cy="979.5" r="3.7"/><circle cx="443.4" cy="979.5" r="3.7"/></g>
</g>
<g fill="none" stroke="#fbe6cc" stroke-width="4.6" stroke-linejoin="round" stroke-linecap="round">
<rect x="923.5" y="1085.3" width="85.8" height="79.1" rx="10"/>
<path d="M923.5,1105.6 H1009.3"/>
<path stroke-width="5.2" stroke-linecap="butt" d="M942.7,1075.6 V1095 M989.4,1075.6 V1095"/>
<g fill="#fbe6cc" stroke="none"><rect x="955.0" y="1116.7" width="6.6" height="6.6" rx="0.8"/><rect x="971.1" y="1116.7" width="6.6" height="6.6" rx="0.8"/><rect x="987.1" y="1116.7" width="6.6" height="6.6" rx="0.8"/><rect x="938.7" y="1132.0" width="6.6" height="6.6" rx="0.8"/><rect x="955.0" y="1132.0" width="6.6" height="6.6" rx="0.8"/><rect x="971.1" y="1132.0" width="6.6" height="6.6" rx="0.8"/><rect x="987.1" y="1132.0" width="6.6" height="6.6" rx="0.8"/><rect x="938.7" y="1147.2" width="6.6" height="6.6" rx="0.8"/><rect x="955.0" y="1147.2" width="6.6" height="6.6" rx="0.8"/><rect x="971.1" y="1147.2" width="6.6" height="6.6" rx="0.8"/></g>
</g>
<g fill="none" stroke="#eee0f8" stroke-width="4.8" stroke-linejoin="round" stroke-linecap="round">
<rect x="1361.5" y="875.5" width="86.8" height="11.6" rx="5.8"/>
<path d="M1369.6,888.5 L1396.4,920.9 V946.8 L1413.6,937.5 V919.9 L1439.9,888.5"/>
<path d="M1371.9,841.3 C1381,839.5 1395.5,846 1395.6,863 C1386,866 1373.5,857.5 1371.9,841.3 Z"/>
<path d="M1402.6,874.5 C1401.5,869 1399.5,865.5 1395.6,863 L1383.8,852.6"/>
<path d="M1409.4,860.7 C1406.5,846 1418,833 1440.4,831.6 C1441.5,850 1430,862.5 1409.4,860.7 Z"/>
<path d="M1404,874.5 C1405,869 1406.5,864.5 1409.4,860.7 L1423.3,846.8"/>
</g>
<g fill="none" stroke="#e0f3f8" stroke-width="5" stroke-linejoin="round" stroke-linecap="round">
<path d="M1837,845.9 H1826 A7.7,7.7 0 0 0 1818.3,853.6 V927 A7.7,7.7 0 0 0 1826,934.7 H1859.2"/>
<path d="M1873.5,845.9 H1884.8 A7.7,7.7 0 0 1 1892.5,853.6 V885.7"/>
<path d="M1840.5,842 H1846.5 Q1849,842 1850.5,839.5 L1853,835.5 Q1855.5,832.5 1858,835.5 L1860.5,839.5 Q1862,842 1864.5,842 H1870 Q1873.3,842 1873.3,845.3 V851.5 Q1873.3,855.3 1869.8,855.3 H1841 Q1837.5,855.3 1837.5,851.5 V845.3 Q1837.5,842 1840.5,842 Z"/>
<path d="M1833.3,875 H1876.8 M1833.3,889.4 H1871.7 M1833.3,903.7 H1857.4"/>
<circle cx="1892" cy="920.9" r="25.4"/>
<path d="M1880,920.4 L1888.4,929.2 L1903.6,913"/>
</g>
<g fill="none" stroke="#fae6e0" stroke-width="4.9" stroke-linejoin="round" stroke-linecap="round">
<path d="M2299.5,833.5 H2331.5 C2331.5,850 2326,859 2318.5,862.5 H2312.5 C2305,859 2299.5,850 2299.5,833.5 Z"/>
<path d="M2299.5,837 H2290 C2290,848 2295,854.5 2303,856.5"/>
<path d="M2331.5,837 H2341 C2341,848 2336,854.5 2328,856.5"/>
<path d="M2313,864 L2304.5,877.5 H2326.5 L2318,864"/>
<path d="M2310.5,873.5 H2320.5" stroke-width="2.4"/>
<path d="M2274,878 C2280,880 2285.5,882.5 2287,889 L2276,916 C2271.5,915.5 2266,916 2260,913.5"/>
<path d="M2355,877.5 C2349,880 2343.5,883 2342.5,889.5 L2353,916 C2358,915 2364,915.5 2370.5,913"/>
<path d="M2287,889 C2293,890.5 2297,891.5 2301.5,891.5 C2308,886 2316,884.5 2323,887 C2329,888.5 2336,889.5 2342.5,889.5"/>
<path d="M2301.5,891.5 C2298,896 2296,900 2297.5,904 C2300,909 2306,908 2310,905 L2316.5,900 L2343.5,921 C2347.5,925 2346.5,930 2341,931.5"/>
<path d="M2276,916 C2278,921 2280,926 2284.5,930.5 C2288,935 2291,938 2296,940 C2300,944 2305,946 2310,946.5 C2315,948.5 2320,947 2324,943.5 C2329,942 2333,939 2336,936 C2339,935 2340,933 2341,931.5"/>
<path d="M2282,925 L2287.5,918 M2290.5,933 L2296,926 M2299.5,939.5 L2304.5,933.5 M2311.5,945.5 L2314.5,940"/>
<path d="M2327.5,921 L2340.5,931.5 M2321.5,928.5 L2334,938.5 M2314.5,936 L2324.5,943.5"/>
</g>
<g fill="none" stroke="#e6f6fc" stroke-width="5" stroke-linejoin="round" stroke-linecap="butt">
<path d="M2257.3,416.1 V384.4 A8,8 0 0 0 2249.3,376.4 H2175.6 A8,8 0 0 0 2167.6,384.4 V442.4 A8,8 0 0 0 2175.6,450.4 H2208.8"/>
<path d="M2167.6,396.2 H2257.3"/>
<path stroke-width="6" d="M2178.9,428 L2187.7,417.7 M2202,405.5 V438.8"/>
<g fill="#e6f6fc" stroke="none"><circle cx="2178.7" cy="385.8" r="2.9"/><circle cx="2188.9" cy="385.8" r="2.9"/><circle cx="2199" cy="385.8" r="2.9"/></g>
<path d="M2249.5,424.6 A21.7,21.7 0 1 1 2222.5,434.5"/>
<path fill="#e6f6fc" stroke="none" d="M2218.9,422.2 H2233.9 L2232.3,437.6 Z"/>
</g>
<!-- decorations -->
<g>
<path d="M586.6,293.4 L585.2,300.5 Q583.8,307.7 592.8,307.3 L597.3,307.1 Q606.3,306.7 604.6,315.5 L603.7,319.9 Q602.0,328.7 611.0,328.4 L614.3,328.3 Q623.3,328.0 621.7,336.1 L620.1,344.1" fill="none" stroke="#2d6cc6" stroke-width="6.0" stroke-linecap="round" stroke-linejoin="round"/>
<circle cx="945.1" cy="277.2" r="10.9" fill="#5b8de0"/>
<circle cx="1004.9" cy="419.6" r="16.0" fill="none" stroke="#3068c2" stroke-width="6"/>
<path d="M306.4,578.2 L306.2,571.5 Q306.0,564.8 314.8,566.8 L324.6,569.2 Q333.4,571.2 332.9,562.2 L332.1,548.5 Q331.6,539.5 340.3,541.9 L349.6,544.6 Q358.3,547.0 359.1,541.2 L359.9,535.4" fill="none" stroke="#4cb67a" stroke-width="6.2" stroke-linecap="round" stroke-linejoin="round"/>
<circle cx="506.3" cy="526.8" r="13.1" fill="none" stroke="#58bd84" stroke-width="5.1"/>
<path d="M562.0,743.3 Q561.2,741.9 562.7,741.9 L589.3,741.9 Q590.8,741.9 590.0,743.3 L576.7,767.8 Q576.0,769.1 575.3,767.8Z" fill="none" stroke="#4db97b" stroke-width="5" stroke-linejoin="round"/>
<circle cx="586.8" cy="953.8" r="15.9" fill="none" stroke="#55bc82" stroke-width="5.2"/>
<path d="M288.5,1031.8 L286.4,1041.0 Q284.4,1049.8 293.2,1047.7 L300.0,1046.1 Q308.8,1044.0 306.8,1052.8 L305.0,1060.9 Q303.0,1069.7 311.8,1068.1 L318.5,1066.8 Q327.3,1065.2 325.0,1073.9 L322.6,1082.9" fill="none" stroke="#42ae70" stroke-width="6.3" stroke-linecap="round" stroke-linejoin="round"/>
<path d="M1068.2,533.7 Q1067.5,535.0 1069.0,535.0 L1096.8,535.0 Q1098.3,535.0 1097.6,533.7 L1083.6,509.2 Q1082.8,507.8 1082.1,509.2Z" fill="none" stroke="#f3aa62" stroke-width="5" stroke-linejoin="round"/>
<path d="M1255.0,587.9 L1253.2,596.4 Q1251.5,604.9 1260.3,603.1 L1266.7,601.9 Q1275.5,600.1 1273.0,608.7 L1270.9,616.2 Q1268.4,624.8 1277.3,623.5 L1284.5,622.5 Q1293.4,621.2 1291.2,629.6 L1289.0,638.1" fill="none" stroke="#ee9a3c" stroke-width="6.1" stroke-linecap="round" stroke-linejoin="round"/>
<path d="M967.3,741.2 Q965.9,740.5 967.3,739.7 L992.1,725.7 Q993.4,725.0 993.4,726.5 L993.4,753.7 Q993.4,755.2 992.1,754.5Z" fill="none" stroke="#f3aa62" stroke-width="5" stroke-linejoin="round"/>
<circle cx="1166.2" cy="815.1" r="12.7" fill="none" stroke="#f3a85e" stroke-width="5"/>
<circle cx="823.7" cy="1179.4" r="13.2" fill="none" stroke="#f3a85e" stroke-width="5"/>
<path d="M1127.4,1143.0 Q1126.7,1144.4 1128.2,1144.4 L1155.3,1144.4 Q1156.8,1144.4 1156.1,1143.0 L1142.5,1117.7 Q1141.8,1116.3 1141.1,1117.7Z" fill="none" stroke="#f3aa62" stroke-width="5" stroke-linejoin="round"/>
<path d="M1495.3,734.2 L1493.7,742.8 Q1492.1,751.5 1500.9,749.6 L1507.3,748.3 Q1516.1,746.4 1513.6,755.1 L1511.6,762.4 Q1509.1,771.1 1517.9,769.4 L1525.9,767.9 Q1534.7,766.2 1532.4,774.8 L1530.0,783.4" fill="none" stroke="#9246ba" stroke-width="5.9" stroke-linecap="round" stroke-linejoin="round"/>
<circle cx="1547.5" cy="985.3" r="11.4" fill="#b988e2"/>
<g fill="none" stroke="#27a0a0" stroke-width="5" stroke-linecap="round" stroke-linejoin="round"><path d="M2009.8,772 V785.5 Q2009.8,788.5 2006.8,788.5 H1978 Q1975,788.5 1975,785.5 V758 Q1975,755 1978,755 H1997"/><path d="M1985,769.5 L1992.5,777.5 L2010,756"/></g>
<path d="M1709.4,991.4 Q1708.7,992.7 1710.2,992.7 L1738.0,992.7 Q1739.5,992.7 1738.8,991.4 L1724.7,966.6 Q1723.9,965.2 1723.2,966.6Z" fill="none" stroke="#2ba8a4" stroke-width="5" stroke-linejoin="round"/>
<g fill="none" stroke="#e07272" stroke-width="4.6" stroke-linecap="round" stroke-linejoin="round"><path d="M2441.5,765 H2471.5 C2471.5,782 2466,791 2459.5,794.5 H2453.5 C2447,791 2441.5,782 2441.5,765 Z"/><path d="M2441.5,769 H2432.5 C2432.5,780 2437,787 2445,789"/><path d="M2471.5,769 H2480.5 C2480.5,780 2476,787 2468,789"/><path d="M2454.5,796 L2446,812.5 H2467 L2458.5,796"/></g>
<path d="M2145.9,957.6 L2143.9,966.2 Q2141.8,974.9 2150.7,973.3 L2155.9,972.3 Q2164.8,970.7 2163.0,979.5 L2161.5,986.3 Q2159.7,995.1 2168.6,993.5 L2175.8,992.2 Q2184.7,990.6 2183.0,999.4 L2181.2,1008.9" fill="none" stroke="#cc7470" stroke-width="6.3" stroke-linecap="round" stroke-linejoin="round"/>
<circle cx="2457.8" cy="988.4" r="15.6" fill="#ee7272"/>
<circle cx="2327.9" cy="315.4" r="13.4" fill="none" stroke="#9cd2ec" stroke-width="5.2"/>
<circle cx="2058.5" cy="440" r="11" fill="#9ad2ee"/>
<path d="M2227.9,596.3 Q2227.2,597.6 2228.7,597.6 L2257.4,597.6 Q2258.9,597.6 2258.2,596.3 L2243.5,570.7 Q2242.7,569.3 2242.0,570.7Z" fill="none" stroke="#92ceea" stroke-width="5" stroke-linejoin="round"/>
</g>
<!-- text -->
<g opacity="0.999" text-rendering="geometricPrecision">
<text x="640.28" y="160.9" font-size="92.6" font-weight="bold" fill="#363b46" textLength="330.08" lengthAdjust="spacingAndGlyphs">Modern</text>
<text x="989.86" y="160.9" font-size="92.6" font-weight="bold" fill="#363b46" textLength="207.40" lengthAdjust="spacingAndGlyphs">Lead</text>
<text x="1217.24" y="160.9" font-size="92.6" font-weight="bold" fill="#363b46" textLength="470.89" lengthAdjust="spacingAndGlyphs">Generation</text>
<text x="1707.06" y="160.9" font-size="92.6" font-weight="bold" fill="#363b46" textLength="468.64" lengthAdjust="spacingAndGlyphs">Ecosystem</text>
<text x="672.63" y="459.2" font-size="44.2" font-weight="bold" fill="#e9f1fa" textLength="216.39" lengthAdjust="spacingAndGlyphs">1. Strategy</text>
<text x="673.46" y="503.3" font-size="44.2" font-weight="bold" fill="#e9f1fa" textLength="218.13" lengthAdjust="spacingAndGlyphs">&amp; Planning</text>
<text x="616.26" y="636.5" font-size="31.7" font-weight="normal" fill="#24272e" textLength="332.43" lengthAdjust="spacingAndGlyphs">Define target audience,</text>
<text x="608.65" y="669.6" font-size="31.7" font-weight="normal" fill="#24272e" textLength="347.49" lengthAdjust="spacingAndGlyphs">goals, and multi-channel</text>
<text x="711.34" y="702.2" font-size="31.7" font-weight="normal" fill="#24272e" textLength="142.90" lengthAdjust="spacingAndGlyphs">approach.</text>
<text x="77.12" y="649.1" font-size="46.0" font-weight="bold" fill="#24272e" textLength="245.88" lengthAdjust="spacingAndGlyphs">2A. Inbound</text>
<text x="117.63" y="693.3" font-size="46.0" font-weight="bold" fill="#24272e" textLength="163.40" lengthAdjust="spacingAndGlyphs">Content</text>
<text x="129.38" y="737.8" font-size="46.0" font-weight="bold" fill="#24272e" textLength="140.46" lengthAdjust="spacingAndGlyphs">Engine</text>
<text x="96.24" y="783.7" font-size="31.7" font-weight="normal" fill="#24272e" textLength="208.32" lengthAdjust="spacingAndGlyphs">Attract organic</text>
<text x="78.10" y="816.2" font-size="31.7" font-weight="normal" fill="#24272e" textLength="247.29" lengthAdjust="spacingAndGlyphs">traffic with blogs,</text>
<text x="73.52" y="848.6" font-size="31.7" font-weight="normal" fill="#24272e" textLength="253.53" lengthAdjust="spacingAndGlyphs">SEO, and valuable</text>
<text x="125.06" y="881.3" font-size="31.7" font-weight="normal" fill="#24272e" textLength="150.69" lengthAdjust="spacingAndGlyphs">resources.</text>
<text x="846.80" y="823.7" font-size="46.0" font-weight="bold" fill="#24272e" textLength="258.14" lengthAdjust="spacingAndGlyphs">2B. Targeted</text>
<text x="880.93" y="868.2" font-size="46.0" font-weight="bold" fill="#24272e" textLength="189.45" lengthAdjust="spacingAndGlyphs">Outreach</text>
<text x="834.66" y="912.8" font-size="31.7" font-weight="normal" fill="#24272e" textLength="279.08" lengthAdjust="spacingAndGlyphs">Proactively connect</text>
<text x="843.79" y="946.0" font-size="31.7" font-weight="normal" fill="#24272e" textLength="265.19" lengthAdjust="spacingAndGlyphs">via email, LinkedIn,</text>
<text x="880.55" y="978.7" font-size="31.7" font-weight="normal" fill="#24272e" textLength="190.85" lengthAdjust="spacingAndGlyphs">and paid ads.</text>
<text x="272.34" y="1160.6" font-size="46.0" font-weight="bold" fill="#24272e" textLength="321.08" lengthAdjust="spacingAndGlyphs">3A. Social Proof</text>
<text x="295.36" y="1205.0" font-size="46.0" font-weight="bold" fill="#24272e" textLength="272.77" lengthAdjust="spacingAndGlyphs">&amp; Community</text>
<text x="300.22" y="1250.3" font-size="31.7" font-weight="normal" fill="#24272e" textLength="264.69" lengthAdjust="spacingAndGlyphs">Build trust through</text>
<text x="281.31" y="1283.1" font-size="31.7" font-weight="normal" fill="#24272e" textLength="304.87" lengthAdjust="spacingAndGlyphs">testimonials, reviews,</text>
<text x="262.94" y="1316.0" font-size="31.7" font-weight="normal" fill="#24272e" textLength="341.18" lengthAdjust="spacingAndGlyphs">and active engagement.</text>
<text x="827.35" y="1285.5" font-size="46.0" font-weight="bold" fill="#24272e" textLength="253.35" lengthAdjust="spacingAndGlyphs">3B. Events &amp;</text>
<text x="859.86" y="1329.9" font-size="46.0" font-weight="bold" fill="#24272e" textLength="191.39" lengthAdjust="spacingAndGlyphs">Webinars</text>
<text x="776.17" y="1376.0" font-size="31.7" font-weight="normal" fill="#24272e" textLength="354.79" lengthAdjust="spacingAndGlyphs">Host interactive sessions</text>
<text x="794.51" y="1408.5" font-size="31.7" font-weight="normal" fill="#24272e" textLength="320.26" lengthAdjust="spacingAndGlyphs">to capture interest and</text>
<text x="891.82" y="1441.3" font-size="31.7" font-weight="normal" fill="#24272e" textLength="124.75" lengthAdjust="spacingAndGlyphs">educate.</text>
<text x="1244.65" y="1074.7" font-size="46.0" font-weight="bold" fill="#24272e" textLength="322.12" lengthAdjust="spacingAndGlyphs">4. Lead Capture</text>
<text x="1306.93" y="1118.7" font-size="46.0" font-weight="bold" fill="#24272e" textLength="196.02" lengthAdjust="spacingAndGlyphs">&amp; Nurture</text>
<text x="1258.44" y="1165.2" font-size="31.7" font-weight="normal" fill="#24272e" textLength="293.29" lengthAdjust="spacingAndGlyphs">Convert visitors with</text>
<text x="1259.64" y="1197.6" font-size="31.7" font-weight="normal" fill="#24272e" textLength="292.03" lengthAdjust="spacingAndGlyphs">forms, chatbots, and</text>
<text x="1249.03" y="1230.9" font-size="31.7" font-weight="normal" fill="#24272e" textLength="312.93" lengthAdjust="spacingAndGlyphs">automated workflows.</text>
<text x="1730.29" y="1074.7" font-size="46.0" font-weight="bold" fill="#24272e" textLength="306.26" lengthAdjust="spacingAndGlyphs">5. Qualification</text>
<text x="1785.58" y="1118.7" font-size="46.0" font-weight="bold" fill="#24272e" textLength="195.59" lengthAdjust="spacingAndGlyphs">&amp; Scoring</text>
<text x="1749.44" y="1165.2" font-size="31.7" font-weight="normal" fill="#24272e" textLength="266.62" lengthAdjust="spacingAndGlyphs">Assess lead quality</text>
<text x="1724.96" y="1197.6" font-size="31.7" font-weight="normal" fill="#24272e" textLength="315.17" lengthAdjust="spacingAndGlyphs">based on engagement</text>
<text x="1768.81" y="1230.9" font-size="31.7" font-weight="normal" fill="#24272e" textLength="230.44" lengthAdjust="spacingAndGlyphs">behavior and fit.</text>
<text x="2202.63" y="1074.7" font-size="46.0" font-weight="bold" fill="#24272e" textLength="332.78" lengthAdjust="spacingAndGlyphs">6. Sales Handoff</text>
<text x="2233.96" y="1118.7" font-size="46.0" font-weight="bold" fill="#24272e" textLength="271.63" lengthAdjust="spacingAndGlyphs">&amp; Conversion</text>
<text x="2230.06" y="1165.2" font-size="31.7" font-weight="normal" fill="#24272e" textLength="277.76" lengthAdjust="spacingAndGlyphs">Seamlessly transfer</text>
<text x="2221.21" y="1197.6" font-size="31.7" font-weight="normal" fill="#24272e" textLength="296.92" lengthAdjust="spacingAndGlyphs">sales-ready leads for</text>
<text x="2315.12" y="1230.9" font-size="31.7" font-weight="normal" fill="#24272e" textLength="110.25" lengthAdjust="spacingAndGlyphs">closing.</text>
<text x="2350.74" y="400.6" font-size="46.0" font-weight="bold" fill="#24272e" textLength="253.24" lengthAdjust="spacingAndGlyphs">7. Analysis &amp;</text>
<text x="2347.22" y="445.0" font-size="46.0" font-weight="bold" fill="#24272e" textLength="262.47" lengthAdjust="spacingAndGlyphs">Optimization</text>
<text x="2345.28" y="492.0" font-size="31.7" font-weight="normal" fill="#24272e" textLength="380.68" lengthAdjust="spacingAndGlyphs">Track performance metrics</text>
<text x="2389.53" y="524.8" font-size="31.7" font-weight="normal" fill="#24272e" textLength="292.03" lengthAdjust="spacingAndGlyphs">and refine strategies</text>
<text x="2441.61" y="557.8" font-size="31.7" font-weight="normal" fill="#24272e" textLength="188.89" lengthAdjust="spacingAndGlyphs">continuously.</text>
</g>
</svg>
</body></html>
